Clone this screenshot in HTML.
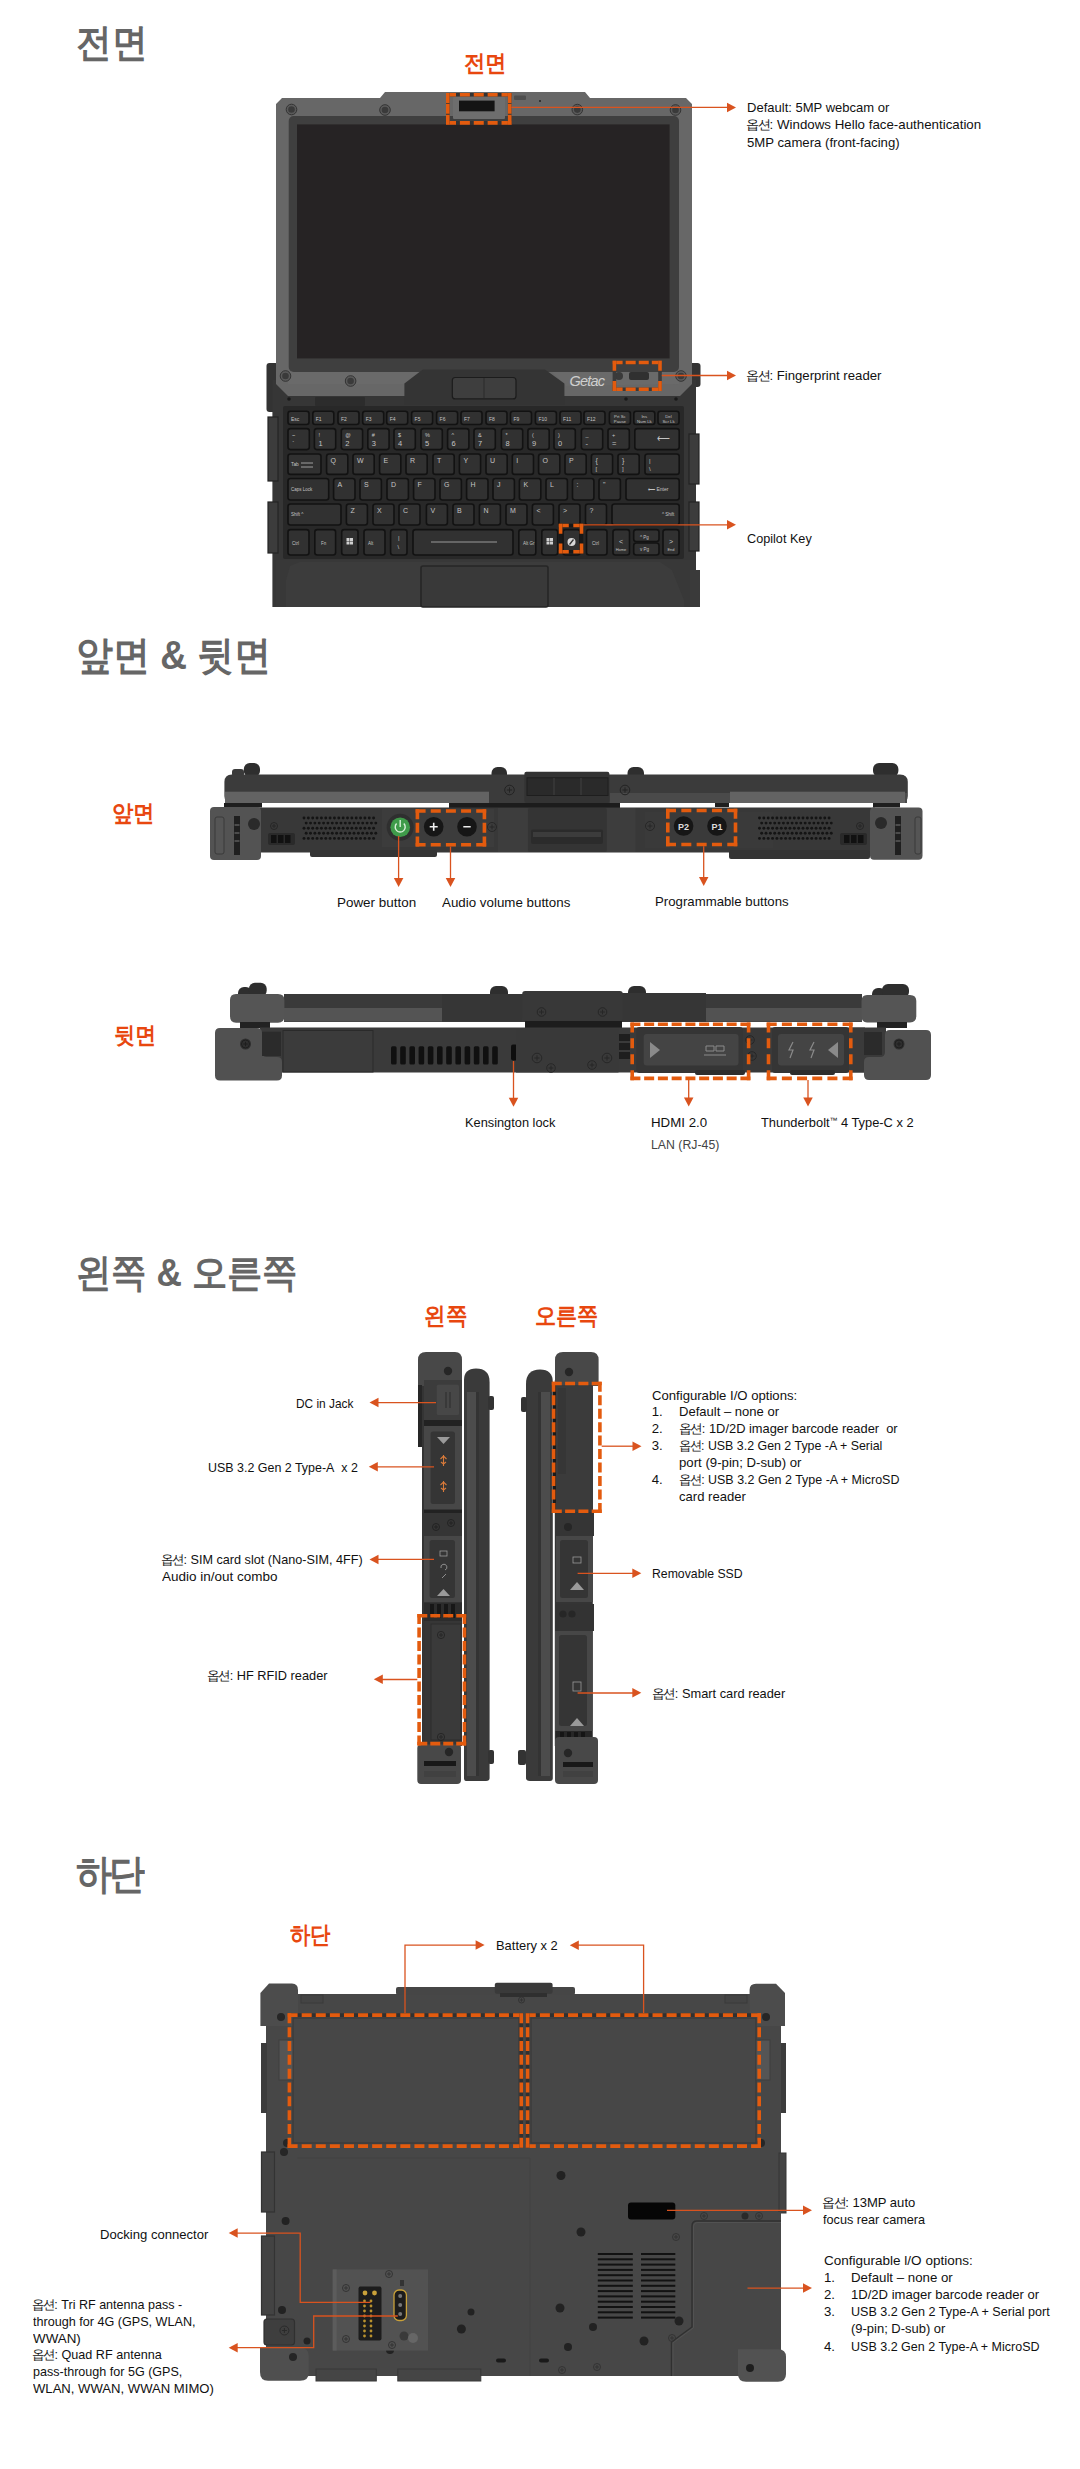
<!DOCTYPE html>
<html><head><meta charset="utf-8"><style>
html,body{margin:0;padding:0;background:#fff;}
body{width:1080px;height:2469px;position:relative;overflow:hidden;font-family:"Liberation Sans",sans-serif;}
.t{position:absolute;white-space:nowrap;line-height:17px;color:#111;transform-origin:0 0;}
.h{position:absolute;white-space:nowrap;line-height:1;font-weight:bold;transform-origin:0 0;}
.k{letter-spacing:-1.3px;}
svg{position:absolute;left:0;top:0;}
</style></head><body>
<svg width="1080" height="2469" viewBox="0 0 1080 2469">
<rect x="266.5" y="363" width="12" height="49" rx="3" fill="#333333" />
<rect x="689" y="363" width="11.5" height="24" rx="3" fill="#333333" />
<rect x="272.4" y="380" width="423.6" height="227" rx="0" fill="#363636" />
<rect x="685" y="570" width="15" height="37" rx="0" fill="#3a3a3a" />
<circle cx="289" cy="399" r="1.8" fill="#1a1a1a" />
<circle cx="325" cy="399" r="1.8" fill="#1a1a1a" />
<circle cx="676" cy="399" r="1.8" fill="#1a1a1a" />
<circle cx="626" cy="399" r="1.8" fill="#1a1a1a" />
<rect x="315" y="397" width="50" height="9" rx="1" fill="#2c2c2c" />
<rect x="268" y="417" width="10" height="64" rx="0" fill="#3c3c3c" stroke="#232323" stroke-width="1.2"/>
<rect x="268" y="502" width="10" height="51" rx="0" fill="#3c3c3c" stroke="#232323" stroke-width="1.2"/>
<rect x="689" y="434" width="10" height="50" rx="0" fill="#3c3c3c" stroke="#232323" stroke-width="1.2"/>
<rect x="689" y="502" width="10" height="49" rx="0" fill="#3c3c3c" stroke="#232323" stroke-width="1.2"/>
<rect x="283" y="406" width="401" height="153" rx="2" fill="#282828" />
<polygon points="276,560 690,560 690,607 276,607" fill="#383838" />
<polygon points="290,566 300,562 660,562 672,570 684,600 684,607 286,607 286,580" fill="#3c3c3c" />
<rect x="421" y="566" width="127" height="41" rx="2" fill="#393939" stroke="#262626" stroke-width="1.6"/>
<rect x="288" y="411.3" width="21" height="13.199999999999989" rx="2.5" fill="#313131" stroke="#121212" stroke-width="1.6"/>
<rect x="312.8" y="411.3" width="21.0" height="13.199999999999989" rx="2.5" fill="#313131" stroke="#121212" stroke-width="1.6"/>
<rect x="338" y="411.3" width="21" height="13.199999999999989" rx="2.5" fill="#313131" stroke="#121212" stroke-width="1.6"/>
<rect x="362.7" y="411.3" width="21.0" height="13.199999999999989" rx="2.5" fill="#313131" stroke="#121212" stroke-width="1.6"/>
<rect x="386.7" y="411.3" width="21.0" height="13.199999999999989" rx="2.5" fill="#313131" stroke="#121212" stroke-width="1.6"/>
<rect x="411.6" y="411.3" width="21.0" height="13.199999999999989" rx="2.5" fill="#313131" stroke="#121212" stroke-width="1.6"/>
<rect x="436.6" y="411.3" width="21.0" height="13.199999999999989" rx="2.5" fill="#313131" stroke="#121212" stroke-width="1.6"/>
<rect x="461" y="411.3" width="21" height="13.199999999999989" rx="2.5" fill="#313131" stroke="#121212" stroke-width="1.6"/>
<rect x="486" y="411.3" width="21" height="13.199999999999989" rx="2.5" fill="#313131" stroke="#121212" stroke-width="1.6"/>
<rect x="510.5" y="411.3" width="21.0" height="13.199999999999989" rx="2.5" fill="#313131" stroke="#121212" stroke-width="1.6"/>
<rect x="535.4" y="411.3" width="21.0" height="13.199999999999989" rx="2.5" fill="#313131" stroke="#121212" stroke-width="1.6"/>
<rect x="560" y="411.3" width="21" height="13.199999999999989" rx="2.5" fill="#313131" stroke="#121212" stroke-width="1.6"/>
<rect x="584" y="411.3" width="21" height="13.199999999999989" rx="2.5" fill="#313131" stroke="#121212" stroke-width="1.6"/>
<rect x="609.4" y="411.3" width="21.0" height="13.199999999999989" rx="2.5" fill="#313131" stroke="#121212" stroke-width="1.6"/>
<rect x="633.8" y="411.3" width="21.0" height="13.199999999999989" rx="2.5" fill="#313131" stroke="#121212" stroke-width="1.6"/>
<rect x="658" y="411.3" width="21" height="13.199999999999989" rx="2.5" fill="#313131" stroke="#121212" stroke-width="1.6"/>
<rect x="288" y="428.6" width="21.30000000000001" height="21.0" rx="2.5" fill="#313131" stroke="#121212" stroke-width="1.6"/>
<rect x="314.4" y="428.6" width="21.30000000000001" height="21.0" rx="2.5" fill="#313131" stroke="#121212" stroke-width="1.6"/>
<rect x="341.3" y="428.6" width="21.30000000000001" height="21.0" rx="2.5" fill="#313131" stroke="#121212" stroke-width="1.6"/>
<rect x="367.8" y="428.6" width="21.30000000000001" height="21.0" rx="2.5" fill="#313131" stroke="#121212" stroke-width="1.6"/>
<rect x="394" y="428.6" width="21.30000000000001" height="21.0" rx="2.5" fill="#313131" stroke="#121212" stroke-width="1.6"/>
<rect x="421" y="428.6" width="21.30000000000001" height="21.0" rx="2.5" fill="#313131" stroke="#121212" stroke-width="1.6"/>
<rect x="447.6" y="428.6" width="21.30000000000001" height="21.0" rx="2.5" fill="#313131" stroke="#121212" stroke-width="1.6"/>
<rect x="474" y="428.6" width="21.30000000000001" height="21.0" rx="2.5" fill="#313131" stroke="#121212" stroke-width="1.6"/>
<rect x="501.4" y="428.6" width="21.299999999999955" height="21.0" rx="2.5" fill="#313131" stroke="#121212" stroke-width="1.6"/>
<rect x="527.9" y="428.6" width="21.299999999999955" height="21.0" rx="2.5" fill="#313131" stroke="#121212" stroke-width="1.6"/>
<rect x="554" y="428.6" width="21.299999999999955" height="21.0" rx="2.5" fill="#313131" stroke="#121212" stroke-width="1.6"/>
<rect x="581.4" y="428.6" width="21.299999999999955" height="21.0" rx="2.5" fill="#313131" stroke="#121212" stroke-width="1.6"/>
<rect x="608" y="428.6" width="21.299999999999955" height="21.0" rx="2.5" fill="#313131" stroke="#121212" stroke-width="1.6"/>
<rect x="634.8" y="428.6" width="44.40000000000009" height="21.0" rx="2.5" fill="#313131" stroke="#121212" stroke-width="1.6"/>
<rect x="288" y="454" width="33" height="20.399999999999977" rx="2.5" fill="#313131" stroke="#121212" stroke-width="1.6"/>
<rect x="326.6" y="454" width="21.19999999999999" height="20.399999999999977" rx="2.5" fill="#313131" stroke="#121212" stroke-width="1.6"/>
<rect x="353" y="454" width="21.19999999999999" height="20.399999999999977" rx="2.5" fill="#313131" stroke="#121212" stroke-width="1.6"/>
<rect x="379.6" y="454" width="21.19999999999999" height="20.399999999999977" rx="2.5" fill="#313131" stroke="#121212" stroke-width="1.6"/>
<rect x="406" y="454" width="21.19999999999999" height="20.399999999999977" rx="2.5" fill="#313131" stroke="#121212" stroke-width="1.6"/>
<rect x="433" y="454" width="21.19999999999999" height="20.399999999999977" rx="2.5" fill="#313131" stroke="#121212" stroke-width="1.6"/>
<rect x="459.4" y="454" width="21.19999999999999" height="20.399999999999977" rx="2.5" fill="#313131" stroke="#121212" stroke-width="1.6"/>
<rect x="486" y="454" width="21.19999999999999" height="20.399999999999977" rx="2.5" fill="#313131" stroke="#121212" stroke-width="1.6"/>
<rect x="512.3" y="454" width="21.200000000000045" height="20.399999999999977" rx="2.5" fill="#313131" stroke="#121212" stroke-width="1.6"/>
<rect x="538.6" y="454" width="21.200000000000045" height="20.399999999999977" rx="2.5" fill="#313131" stroke="#121212" stroke-width="1.6"/>
<rect x="565" y="454" width="21.200000000000045" height="20.399999999999977" rx="2.5" fill="#313131" stroke="#121212" stroke-width="1.6"/>
<rect x="591.4" y="454" width="21.200000000000045" height="20.399999999999977" rx="2.5" fill="#313131" stroke="#121212" stroke-width="1.6"/>
<rect x="618" y="454" width="21.200000000000045" height="20.399999999999977" rx="2.5" fill="#313131" stroke="#121212" stroke-width="1.6"/>
<rect x="645" y="454" width="34.200000000000045" height="20.399999999999977" rx="2.5" fill="#313131" stroke="#121212" stroke-width="1.6"/>
<rect x="288" y="478.5" width="40.69999999999999" height="21.5" rx="2.5" fill="#313131" stroke="#121212" stroke-width="1.6"/>
<rect x="333.6" y="478.5" width="21.399999999999977" height="21.5" rx="2.5" fill="#313131" stroke="#121212" stroke-width="1.6"/>
<rect x="360" y="478.5" width="21.399999999999977" height="21.5" rx="2.5" fill="#313131" stroke="#121212" stroke-width="1.6"/>
<rect x="387" y="478.5" width="21.399999999999977" height="21.5" rx="2.5" fill="#313131" stroke="#121212" stroke-width="1.6"/>
<rect x="413.6" y="478.5" width="21.399999999999977" height="21.5" rx="2.5" fill="#313131" stroke="#121212" stroke-width="1.6"/>
<rect x="440" y="478.5" width="21.399999999999977" height="21.5" rx="2.5" fill="#313131" stroke="#121212" stroke-width="1.6"/>
<rect x="466.6" y="478.5" width="21.399999999999977" height="21.5" rx="2.5" fill="#313131" stroke="#121212" stroke-width="1.6"/>
<rect x="493" y="478.5" width="21.399999999999977" height="21.5" rx="2.5" fill="#313131" stroke="#121212" stroke-width="1.6"/>
<rect x="519.4" y="478.5" width="21.399999999999977" height="21.5" rx="2.5" fill="#313131" stroke="#121212" stroke-width="1.6"/>
<rect x="546" y="478.5" width="21.399999999999977" height="21.5" rx="2.5" fill="#313131" stroke="#121212" stroke-width="1.6"/>
<rect x="572.5" y="478.5" width="21.399999999999977" height="21.5" rx="2.5" fill="#313131" stroke="#121212" stroke-width="1.6"/>
<rect x="599" y="478.5" width="21.399999999999977" height="21.5" rx="2.5" fill="#313131" stroke="#121212" stroke-width="1.6"/>
<rect x="626" y="478.5" width="53.200000000000045" height="21.5" rx="2.5" fill="#313131" stroke="#121212" stroke-width="1.6"/>
<rect x="288" y="504" width="53" height="21" rx="2.5" fill="#313131" stroke="#121212" stroke-width="1.6"/>
<rect x="346.4" y="504" width="21.0" height="21" rx="2.5" fill="#313131" stroke="#121212" stroke-width="1.6"/>
<rect x="373" y="504" width="21" height="21" rx="2.5" fill="#313131" stroke="#121212" stroke-width="1.6"/>
<rect x="399" y="504" width="21" height="21" rx="2.5" fill="#313131" stroke="#121212" stroke-width="1.6"/>
<rect x="426.4" y="504" width="21.0" height="21" rx="2.5" fill="#313131" stroke="#121212" stroke-width="1.6"/>
<rect x="453" y="504" width="21" height="21" rx="2.5" fill="#313131" stroke="#121212" stroke-width="1.6"/>
<rect x="479.4" y="504" width="21.0" height="21" rx="2.5" fill="#313131" stroke="#121212" stroke-width="1.6"/>
<rect x="506" y="504" width="21" height="21" rx="2.5" fill="#313131" stroke="#121212" stroke-width="1.6"/>
<rect x="532.4" y="504" width="21.0" height="21" rx="2.5" fill="#313131" stroke="#121212" stroke-width="1.6"/>
<rect x="559" y="504" width="21" height="21" rx="2.5" fill="#313131" stroke="#121212" stroke-width="1.6"/>
<rect x="585.5" y="504" width="21.0" height="21" rx="2.5" fill="#313131" stroke="#121212" stroke-width="1.6"/>
<rect x="612" y="504" width="67.20000000000005" height="21" rx="2.5" fill="#313131" stroke="#121212" stroke-width="1.6"/>
<rect x="288" y="529.6" width="21" height="25.399999999999977" rx="2.5" fill="#313131" stroke="#121212" stroke-width="1.6"/>
<rect x="314.8" y="529.6" width="20.80000000000001" height="25.399999999999977" rx="2.5" fill="#313131" stroke="#121212" stroke-width="1.6"/>
<rect x="341.7" y="529.6" width="16.30000000000001" height="25.399999999999977" rx="2.5" fill="#313131" stroke="#121212" stroke-width="1.6"/>
<rect x="364" y="529.6" width="21" height="25.399999999999977" rx="2.5" fill="#313131" stroke="#121212" stroke-width="1.6"/>
<rect x="390.6" y="529.6" width="16.399999999999977" height="25.399999999999977" rx="2.5" fill="#313131" stroke="#121212" stroke-width="1.6"/>
<rect x="413" y="529.6" width="100" height="25.399999999999977" rx="2.5" fill="#313131" stroke="#121212" stroke-width="1.6"/>
<rect x="518.8" y="529.6" width="17.0" height="25.399999999999977" rx="2.5" fill="#313131" stroke="#121212" stroke-width="1.6"/>
<rect x="541.8" y="529.6" width="15.900000000000091" height="25.399999999999977" rx="2.5" fill="#313131" stroke="#121212" stroke-width="1.6"/>
<rect x="563" y="529.6" width="17" height="25.399999999999977" rx="2.5" fill="#313131" stroke="#121212" stroke-width="1.6"/>
<rect x="586.5" y="529.6" width="20.5" height="25.399999999999977" rx="2.5" fill="#313131" stroke="#121212" stroke-width="1.6"/>
<rect x="613" y="529.6" width="16.5" height="25.399999999999977" rx="2.5" fill="#313131" stroke="#121212" stroke-width="1.6"/>
<rect x="663" y="529.6" width="16" height="25.399999999999977" rx="2.5" fill="#313131" stroke="#121212" stroke-width="1.6"/>
<rect x="633.7" y="529.6" width="25.299999999999955" height="11.899999999999977" rx="2.5" fill="#313131" stroke="#121212" stroke-width="1.6"/>
<rect x="633.7" y="543" width="25.299999999999955" height="12" rx="2.5" fill="#313131" stroke="#121212" stroke-width="1.6"/>
<line x1="431" y1="542" x2="497" y2="542" stroke="#9a9a9a" stroke-width="1"/>
<text x="291" y="420.5" font-family="Liberation Sans" font-size="5" fill="#c4c4c4" text-anchor="start" font-weight="normal">Esc</text>
<text x="315.8" y="420.5" font-family="Liberation Sans" font-size="5" fill="#c4c4c4" text-anchor="start" font-weight="normal">F1</text>
<text x="341" y="420.5" font-family="Liberation Sans" font-size="5" fill="#c4c4c4" text-anchor="start" font-weight="normal">F2</text>
<text x="365.7" y="420.5" font-family="Liberation Sans" font-size="5" fill="#c4c4c4" text-anchor="start" font-weight="normal">F3</text>
<text x="389.7" y="420.5" font-family="Liberation Sans" font-size="5" fill="#c4c4c4" text-anchor="start" font-weight="normal">F4</text>
<text x="414.6" y="420.5" font-family="Liberation Sans" font-size="5" fill="#c4c4c4" text-anchor="start" font-weight="normal">F5</text>
<text x="439.6" y="420.5" font-family="Liberation Sans" font-size="5" fill="#c4c4c4" text-anchor="start" font-weight="normal">F6</text>
<text x="464" y="420.5" font-family="Liberation Sans" font-size="5" fill="#c4c4c4" text-anchor="start" font-weight="normal">F7</text>
<text x="489" y="420.5" font-family="Liberation Sans" font-size="5" fill="#c4c4c4" text-anchor="start" font-weight="normal">F8</text>
<text x="513.5" y="420.5" font-family="Liberation Sans" font-size="5" fill="#c4c4c4" text-anchor="start" font-weight="normal">F9</text>
<text x="538.4" y="420.5" font-family="Liberation Sans" font-size="5" fill="#c4c4c4" text-anchor="start" font-weight="normal">F10</text>
<text x="563" y="420.5" font-family="Liberation Sans" font-size="5" fill="#c4c4c4" text-anchor="start" font-weight="normal">F11</text>
<text x="587" y="420.5" font-family="Liberation Sans" font-size="5" fill="#c4c4c4" text-anchor="start" font-weight="normal">F12</text>
<text x="619.9" y="417.5" font-family="Liberation Sans" font-size="4.3" fill="#c4c4c4" text-anchor="middle" font-weight="normal">Prt Sc</text>
<text x="619.9" y="422.5" font-family="Liberation Sans" font-size="4.3" fill="#c4c4c4" text-anchor="middle" font-weight="normal">Pause</text>
<text x="644.3" y="417.5" font-family="Liberation Sans" font-size="4.3" fill="#c4c4c4" text-anchor="middle" font-weight="normal">Ins</text>
<text x="644.3" y="422.5" font-family="Liberation Sans" font-size="4.3" fill="#c4c4c4" text-anchor="middle" font-weight="normal">Num Lk</text>
<text x="668.5" y="417.5" font-family="Liberation Sans" font-size="4.3" fill="#c4c4c4" text-anchor="middle" font-weight="normal">Del</text>
<text x="668.5" y="422.5" font-family="Liberation Sans" font-size="4.3" fill="#c4c4c4" text-anchor="middle" font-weight="normal">Scr Lk</text>
<text x="292" y="436.5" font-family="Liberation Sans" font-size="5.5" fill="#c4c4c4" text-anchor="start" font-weight="normal">~</text>
<text x="292" y="446" font-family="Liberation Sans" font-size="7.5" fill="#c4c4c4" text-anchor="start" font-weight="normal">`</text>
<text x="318.4" y="436.5" font-family="Liberation Sans" font-size="5.5" fill="#c4c4c4" text-anchor="start" font-weight="normal">!</text>
<text x="318.4" y="446" font-family="Liberation Sans" font-size="7.5" fill="#c4c4c4" text-anchor="start" font-weight="normal">1</text>
<text x="345.3" y="436.5" font-family="Liberation Sans" font-size="5.5" fill="#c4c4c4" text-anchor="start" font-weight="normal">@</text>
<text x="345.3" y="446" font-family="Liberation Sans" font-size="7.5" fill="#c4c4c4" text-anchor="start" font-weight="normal">2</text>
<text x="371.8" y="436.5" font-family="Liberation Sans" font-size="5.5" fill="#c4c4c4" text-anchor="start" font-weight="normal">#</text>
<text x="371.8" y="446" font-family="Liberation Sans" font-size="7.5" fill="#c4c4c4" text-anchor="start" font-weight="normal">3</text>
<text x="398" y="436.5" font-family="Liberation Sans" font-size="5.5" fill="#c4c4c4" text-anchor="start" font-weight="normal">$</text>
<text x="398" y="446" font-family="Liberation Sans" font-size="7.5" fill="#c4c4c4" text-anchor="start" font-weight="normal">4</text>
<text x="425" y="436.5" font-family="Liberation Sans" font-size="5.5" fill="#c4c4c4" text-anchor="start" font-weight="normal">%</text>
<text x="425" y="446" font-family="Liberation Sans" font-size="7.5" fill="#c4c4c4" text-anchor="start" font-weight="normal">5</text>
<text x="451.6" y="436.5" font-family="Liberation Sans" font-size="5.5" fill="#c4c4c4" text-anchor="start" font-weight="normal">^</text>
<text x="451.6" y="446" font-family="Liberation Sans" font-size="7.5" fill="#c4c4c4" text-anchor="start" font-weight="normal">6</text>
<text x="478" y="436.5" font-family="Liberation Sans" font-size="5.5" fill="#c4c4c4" text-anchor="start" font-weight="normal">&amp;</text>
<text x="478" y="446" font-family="Liberation Sans" font-size="7.5" fill="#c4c4c4" text-anchor="start" font-weight="normal">7</text>
<text x="505.4" y="436.5" font-family="Liberation Sans" font-size="5.5" fill="#c4c4c4" text-anchor="start" font-weight="normal">*</text>
<text x="505.4" y="446" font-family="Liberation Sans" font-size="7.5" fill="#c4c4c4" text-anchor="start" font-weight="normal">8</text>
<text x="531.9" y="436.5" font-family="Liberation Sans" font-size="5.5" fill="#c4c4c4" text-anchor="start" font-weight="normal">(</text>
<text x="531.9" y="446" font-family="Liberation Sans" font-size="7.5" fill="#c4c4c4" text-anchor="start" font-weight="normal">9</text>
<text x="558" y="436.5" font-family="Liberation Sans" font-size="5.5" fill="#c4c4c4" text-anchor="start" font-weight="normal">)</text>
<text x="558" y="446" font-family="Liberation Sans" font-size="7.5" fill="#c4c4c4" text-anchor="start" font-weight="normal">0</text>
<text x="585.4" y="436.5" font-family="Liberation Sans" font-size="5.5" fill="#c4c4c4" text-anchor="start" font-weight="normal">_</text>
<text x="585.4" y="446" font-family="Liberation Sans" font-size="7.5" fill="#c4c4c4" text-anchor="start" font-weight="normal">-</text>
<text x="612" y="436.5" font-family="Liberation Sans" font-size="5.5" fill="#c4c4c4" text-anchor="start" font-weight="normal">+</text>
<text x="612" y="446" font-family="Liberation Sans" font-size="7.5" fill="#c4c4c4" text-anchor="start" font-weight="normal">=</text>
<text x="657" y="441" font-family="Liberation Sans" font-size="9" fill="#c4c4c4" text-anchor="start" font-weight="normal">⟵</text>
<text x="291" y="466" font-family="Liberation Sans" font-size="4.8" fill="#c4c4c4" text-anchor="start" font-weight="normal">Tab</text>
<path d="M301,463h12M301,467h12" stroke="#bbb" stroke-width="0.8"/>
<text x="330.6" y="462.5" font-family="Liberation Sans" font-size="7" fill="#c4c4c4" text-anchor="start" font-weight="normal">Q</text>
<text x="357" y="462.5" font-family="Liberation Sans" font-size="7" fill="#c4c4c4" text-anchor="start" font-weight="normal">W</text>
<text x="383.6" y="462.5" font-family="Liberation Sans" font-size="7" fill="#c4c4c4" text-anchor="start" font-weight="normal">E</text>
<text x="410" y="462.5" font-family="Liberation Sans" font-size="7" fill="#c4c4c4" text-anchor="start" font-weight="normal">R</text>
<text x="437" y="462.5" font-family="Liberation Sans" font-size="7" fill="#c4c4c4" text-anchor="start" font-weight="normal">T</text>
<text x="463.4" y="462.5" font-family="Liberation Sans" font-size="7" fill="#c4c4c4" text-anchor="start" font-weight="normal">Y</text>
<text x="490" y="462.5" font-family="Liberation Sans" font-size="7" fill="#c4c4c4" text-anchor="start" font-weight="normal">U</text>
<text x="516.3" y="462.5" font-family="Liberation Sans" font-size="7" fill="#c4c4c4" text-anchor="start" font-weight="normal">I</text>
<text x="542.6" y="462.5" font-family="Liberation Sans" font-size="7" fill="#c4c4c4" text-anchor="start" font-weight="normal">O</text>
<text x="569" y="462.5" font-family="Liberation Sans" font-size="7" fill="#c4c4c4" text-anchor="start" font-weight="normal">P</text>
<text x="595.4" y="462.5" font-family="Liberation Sans" font-size="7" fill="#c4c4c4" text-anchor="start" font-weight="normal">{</text>
<text x="622" y="462.5" font-family="Liberation Sans" font-size="7" fill="#c4c4c4" text-anchor="start" font-weight="normal">}</text>
<text x="595.4" y="471" font-family="Liberation Sans" font-size="6" fill="#c4c4c4" text-anchor="start" font-weight="normal">[</text>
<text x="622" y="471" font-family="Liberation Sans" font-size="6" fill="#c4c4c4" text-anchor="start" font-weight="normal">]</text>
<text x="649" y="462.5" font-family="Liberation Sans" font-size="6" fill="#c4c4c4" text-anchor="start" font-weight="normal">|</text>
<text x="649" y="471" font-family="Liberation Sans" font-size="6" fill="#c4c4c4" text-anchor="start" font-weight="normal">\</text>
<text x="291" y="490.5" font-family="Liberation Sans" font-size="4.5" fill="#c4c4c4" text-anchor="start" font-weight="normal">Caps Lock</text>
<text x="337.6" y="487" font-family="Liberation Sans" font-size="7" fill="#c4c4c4" text-anchor="start" font-weight="normal">A</text>
<text x="364" y="487" font-family="Liberation Sans" font-size="7" fill="#c4c4c4" text-anchor="start" font-weight="normal">S</text>
<text x="391" y="487" font-family="Liberation Sans" font-size="7" fill="#c4c4c4" text-anchor="start" font-weight="normal">D</text>
<text x="417.6" y="487" font-family="Liberation Sans" font-size="7" fill="#c4c4c4" text-anchor="start" font-weight="normal">F</text>
<text x="444" y="487" font-family="Liberation Sans" font-size="7" fill="#c4c4c4" text-anchor="start" font-weight="normal">G</text>
<text x="470.6" y="487" font-family="Liberation Sans" font-size="7" fill="#c4c4c4" text-anchor="start" font-weight="normal">H</text>
<text x="497" y="487" font-family="Liberation Sans" font-size="7" fill="#c4c4c4" text-anchor="start" font-weight="normal">J</text>
<text x="523.4" y="487" font-family="Liberation Sans" font-size="7" fill="#c4c4c4" text-anchor="start" font-weight="normal">K</text>
<text x="550" y="487" font-family="Liberation Sans" font-size="7" fill="#c4c4c4" text-anchor="start" font-weight="normal">L</text>
<text x="576.5" y="487" font-family="Liberation Sans" font-size="7" fill="#c4c4c4" text-anchor="start" font-weight="normal">:</text>
<text x="603" y="487" font-family="Liberation Sans" font-size="7" fill="#c4c4c4" text-anchor="start" font-weight="normal">"</text>
<text x="648" y="490.5" font-family="Liberation Sans" font-size="5" fill="#c4c4c4" text-anchor="start" font-weight="normal">⟵ Enter</text>
<text x="291" y="516" font-family="Liberation Sans" font-size="4.5" fill="#c4c4c4" text-anchor="start" font-weight="normal">Shift ^</text>
<text x="350.4" y="512.5" font-family="Liberation Sans" font-size="7" fill="#c4c4c4" text-anchor="start" font-weight="normal">Z</text>
<text x="377" y="512.5" font-family="Liberation Sans" font-size="7" fill="#c4c4c4" text-anchor="start" font-weight="normal">X</text>
<text x="403" y="512.5" font-family="Liberation Sans" font-size="7" fill="#c4c4c4" text-anchor="start" font-weight="normal">C</text>
<text x="430.4" y="512.5" font-family="Liberation Sans" font-size="7" fill="#c4c4c4" text-anchor="start" font-weight="normal">V</text>
<text x="457" y="512.5" font-family="Liberation Sans" font-size="7" fill="#c4c4c4" text-anchor="start" font-weight="normal">B</text>
<text x="483.4" y="512.5" font-family="Liberation Sans" font-size="7" fill="#c4c4c4" text-anchor="start" font-weight="normal">N</text>
<text x="510" y="512.5" font-family="Liberation Sans" font-size="7" fill="#c4c4c4" text-anchor="start" font-weight="normal">M</text>
<text x="536.4" y="512.5" font-family="Liberation Sans" font-size="7" fill="#c4c4c4" text-anchor="start" font-weight="normal">&lt;</text>
<text x="563" y="512.5" font-family="Liberation Sans" font-size="7" fill="#c4c4c4" text-anchor="start" font-weight="normal">&gt;</text>
<text x="589.5" y="512.5" font-family="Liberation Sans" font-size="7" fill="#c4c4c4" text-anchor="start" font-weight="normal">?</text>
<text x="662" y="516" font-family="Liberation Sans" font-size="4.5" fill="#c4c4c4" text-anchor="start" font-weight="normal">^ Shift</text>
<text x="292" y="544.5" font-family="Liberation Sans" font-size="4.5" fill="#c4c4c4" text-anchor="start" font-weight="normal">Ctrl</text>
<text x="321" y="544.5" font-family="Liberation Sans" font-size="4.5" fill="#c4c4c4" text-anchor="start" font-weight="normal">Fn</text>
<text x="368" y="544.5" font-family="Liberation Sans" font-size="4.5" fill="#c4c4c4" text-anchor="start" font-weight="normal">Alt</text>
<text x="523" y="544.5" font-family="Liberation Sans" font-size="4.5" fill="#c4c4c4" text-anchor="start" font-weight="normal">Alt Gr</text>
<text x="592" y="544.5" font-family="Liberation Sans" font-size="4.5" fill="#c4c4c4" text-anchor="start" font-weight="normal">Ctrl</text>
<rect x="346.5" y="538" width="3" height="3" rx="0" fill="#d0d0d0" />
<rect x="346.5" y="541.5" width="3" height="3" rx="0" fill="#d0d0d0" />
<rect x="350.0" y="538" width="3" height="3" rx="0" fill="#d0d0d0" />
<rect x="350.0" y="541.5" width="3" height="3" rx="0" fill="#d0d0d0" />
<rect x="546.5" y="538" width="3" height="3" rx="0" fill="#d0d0d0" />
<rect x="546.5" y="541.5" width="3" height="3" rx="0" fill="#d0d0d0" />
<rect x="550.0" y="538" width="3" height="3" rx="0" fill="#d0d0d0" />
<rect x="550.0" y="541.5" width="3" height="3" rx="0" fill="#d0d0d0" />
<text x="398" y="540" font-family="Liberation Sans" font-size="6" fill="#c4c4c4" text-anchor="start" font-weight="normal">|</text>
<text x="397.5" y="549" font-family="Liberation Sans" font-size="6" fill="#c4c4c4" text-anchor="start" font-weight="normal">\</text>
<circle cx="571.5" cy="542" r="4" fill="#d8d8d8"/><path d="M569.5,544.5 l4,-5" stroke="#333" stroke-width="1.3"/>
<text x="621" y="544" font-family="Liberation Sans" font-size="7" fill="#c4c4c4" text-anchor="middle" font-weight="normal">&lt;</text>
<text x="621" y="551" font-family="Liberation Sans" font-size="4" fill="#c4c4c4" text-anchor="middle" font-weight="normal">Home</text>
<text x="671" y="544" font-family="Liberation Sans" font-size="7" fill="#c4c4c4" text-anchor="middle" font-weight="normal">&gt;</text>
<text x="671" y="551" font-family="Liberation Sans" font-size="4" fill="#c4c4c4" text-anchor="middle" font-weight="normal">End</text>
<text x="640" y="538.5" font-family="Liberation Sans" font-size="4.5" fill="#c4c4c4" text-anchor="start" font-weight="normal">^ Pg</text>
<text x="640" y="551" font-family="Liberation Sans" font-size="4.5" fill="#c4c4c4" text-anchor="start" font-weight="normal">v Pg</text>
<polygon points="276,104 282,98 380,98 385,92 585,92 590,98 686,98 692,104 692,384 680,396 288,396 276,384" fill="#676767" />
<rect x="288.7" y="116" width="390.3" height="256" rx="5" fill="#3f3f3f" />
<rect x="297" y="124.4" width="372.6" height="234" rx="0" fill="#262324" />
<polygon points="288,372 436,372 423,384 288,384" fill="#6a6a6a" />

<polygon points="552,372 679,372 679,384 566,386" fill="#6a6a6a" />
<polygon points="422.8,369.4 545,369.4 564.4,383.6 564.4,405 404.4,405 404.4,383.6" fill="#343434" />
<rect x="452.3" y="377.5" width="63.7" height="21.4" rx="3" fill="#3e3e3e" stroke="#1c1c1c" stroke-width="1.2"/>
<line x1="484" y1="378" x2="484" y2="398" stroke="#2a2a2a" stroke-width="1"/>
<circle cx="291.5" cy="109.5" r="5.3" fill="#5a5a5a" stroke="#333" stroke-width="1"/>
<circle cx="291.5" cy="109.5" r="3.3" fill="#3a3a3a" />
<circle cx="385" cy="110" r="5.3" fill="#5a5a5a" stroke="#333" stroke-width="1"/>
<circle cx="385" cy="110" r="3.3" fill="#3a3a3a" />
<circle cx="577.3" cy="109.6" r="5.3" fill="#5a5a5a" stroke="#333" stroke-width="1"/>
<circle cx="577.3" cy="109.6" r="3.3" fill="#3a3a3a" />
<circle cx="675.5" cy="110" r="5.3" fill="#5a5a5a" stroke="#333" stroke-width="1"/>
<circle cx="675.5" cy="110" r="3.3" fill="#3a3a3a" />
<circle cx="285.5" cy="376" r="5.3" fill="#5a5a5a" stroke="#333" stroke-width="1"/>
<circle cx="285.5" cy="376" r="3.3" fill="#3a3a3a" />
<circle cx="350.6" cy="381" r="5.3" fill="#5a5a5a" stroke="#333" stroke-width="1"/>
<circle cx="350.6" cy="381" r="3.3" fill="#3a3a3a" />
<circle cx="681" cy="376" r="5.3" fill="#5a5a5a" stroke="#333" stroke-width="1"/>
<circle cx="681" cy="376" r="3.3" fill="#3a3a3a" />
<rect x="453" y="97" width="52" height="22" rx="1" fill="#6e6e6e" />
<rect x="459" y="100.6" width="35.6" height="10.7" rx="0" fill="#141414" />
<rect x="514" y="95.5" width="12" height="4.5" rx="1" fill="#4e4e4e" />
<circle cx="540" cy="101" r="1" fill="#222" />
<rect x="629" y="372" width="20" height="8" rx="2" fill="#303030" />
<circle cx="619" cy="376" r="4" fill="#3a3a3a" />
<text x="569.6" y="386" font-family="Liberation Sans" font-style="italic" font-size="14.5" fill="#cfcfcf" textLength="35.5">Getac</text>
<line x1="446" y1="94.8" x2="511.5" y2="94.8" stroke="#333" stroke-width="3.6"/>
<line x1="446" y1="94.8" x2="511.5" y2="94.8" stroke="#e35b0e" stroke-width="3.6" stroke-dasharray="10.00 3.88"/>
<line x1="446" y1="122.9" x2="511.5" y2="122.9" stroke="#333" stroke-width="3.6"/>
<line x1="446" y1="122.9" x2="511.5" y2="122.9" stroke="#e35b0e" stroke-width="3.6" stroke-dasharray="10.00 3.88"/>
<line x1="447.8" y1="93" x2="447.8" y2="124.7" stroke="#333" stroke-width="3.6"/>
<line x1="447.8" y1="93" x2="447.8" y2="124.7" stroke="#e35b0e" stroke-width="3.6" stroke-dasharray="10.00 0.85"/>
<line x1="509.7" y1="93" x2="509.7" y2="124.7" stroke="#333" stroke-width="3.6"/>
<line x1="509.7" y1="93" x2="509.7" y2="124.7" stroke="#e35b0e" stroke-width="3.6" stroke-dasharray="10.00 0.85"/>
<line x1="612.6" y1="362.5" x2="661.8" y2="362.5" stroke="#3a3a3a" stroke-width="3.6"/>
<line x1="612.6" y1="362.5" x2="661.8" y2="362.5" stroke="#e35b0e" stroke-width="3.6" stroke-dasharray="10.00 3.07"/>
<line x1="612.6" y1="389.2" x2="661.8" y2="389.2" stroke="#3a3a3a" stroke-width="3.6"/>
<line x1="612.6" y1="389.2" x2="661.8" y2="389.2" stroke="#e35b0e" stroke-width="3.6" stroke-dasharray="10.00 3.07"/>
<line x1="614.4" y1="360.7" x2="614.4" y2="391" stroke="#3a3a3a" stroke-width="3.6"/>
<line x1="614.4" y1="360.7" x2="614.4" y2="391" stroke="#e35b0e" stroke-width="3.6" stroke-dasharray="10.00 10.30"/>
<line x1="660.0" y1="360.7" x2="660.0" y2="391" stroke="#3a3a3a" stroke-width="3.6"/>
<line x1="660.0" y1="360.7" x2="660.0" y2="391" stroke="#e35b0e" stroke-width="3.6" stroke-dasharray="10.00 10.30"/>
<line x1="558.8" y1="525.5" x2="583.3" y2="525.5" stroke="#181818" stroke-width="3.6"/>
<line x1="558.8" y1="525.5" x2="583.3" y2="525.5" stroke="#e35b0e" stroke-width="3.6" stroke-dasharray="10.00 4.50"/>
<line x1="558.8" y1="551.8000000000001" x2="583.3" y2="551.8000000000001" stroke="#181818" stroke-width="3.6"/>
<line x1="558.8" y1="551.8000000000001" x2="583.3" y2="551.8000000000001" stroke="#e35b0e" stroke-width="3.6" stroke-dasharray="10.00 4.50"/>
<line x1="560.5999999999999" y1="523.7" x2="560.5999999999999" y2="553.6" stroke="#181818" stroke-width="3.6"/>
<line x1="560.5999999999999" y1="523.7" x2="560.5999999999999" y2="553.6" stroke="#e35b0e" stroke-width="3.6" stroke-dasharray="10.00 9.90"/>
<line x1="581.5" y1="523.7" x2="581.5" y2="553.6" stroke="#181818" stroke-width="3.6"/>
<line x1="581.5" y1="523.7" x2="581.5" y2="553.6" stroke="#e35b0e" stroke-width="3.6" stroke-dasharray="10.00 9.90"/>
<line x1="511.5" y1="107.4" x2="728" y2="107.4" stroke="#d9531f" stroke-width="1.3"/>
<polygon points="736,107.4 727,102.65 727,112.15" fill="#d9531f" />
<line x1="661.8" y1="375.5" x2="728" y2="375.5" stroke="#d9531f" stroke-width="1.3"/>
<polygon points="736,375.5 727,370.75 727,380.25" fill="#d9531f" />
<line x1="583.3" y1="524.8" x2="728" y2="524.8" stroke="#d9531f" stroke-width="1.3"/>
<polygon points="736,524.8 727,520.05 727,529.55" fill="#d9531f" />
<rect x="243.8" y="763" width="16.19999999999999" height="14" rx="6" fill="#2e2e2e" />
<rect x="491.5" y="767" width="15.5" height="14" rx="6" fill="#2e2e2e" />
<rect x="627.5" y="767" width="16.5" height="14" rx="6" fill="#2e2e2e" />
<rect x="873" y="763" width="25.399999999999977" height="14" rx="6" fill="#2e2e2e" />
<rect x="232" y="769" width="12" height="8" rx="3" fill="#3a3a3a" />
<path d="M224.4,782 Q224.4,774.4 232,774.4 L900,774.4 Q907.8,774.4 907.8,782 L907.8,796 Q907.8,803 900,803 L232,803 Q224.4,803 224.4,796Z" fill="#3b3b3b"/>
<rect x="225" y="791.7" width="264" height="11.3" rx="0" fill="#636363" />
<rect x="610" y="793" width="297" height="10" rx="0" fill="#4a4a4a" />
<rect x="730" y="791.7" width="175" height="11.3" rx="0" fill="#636363" />
<rect x="224" y="803" width="38" height="4.5" rx="0" fill="#1e1e1e" />
<rect x="598" y="803" width="16" height="4" rx="0" fill="#1e1e1e" />
<rect x="715" y="803" width="14" height="4" rx="0" fill="#1e1e1e" />
<rect x="873" y="803" width="27" height="4.5" rx="0" fill="#1e1e1e" />
<rect x="524.4" y="771.8" width="85" height="31.2" rx="2" fill="#333333" />
<rect x="527" y="777.8" width="81" height="17.7" rx="0" fill="#2a2a2a" stroke="#1e1e1e" stroke-width="1"/>
<line x1="554" y1="778" x2="554" y2="795" stroke="#3a3a3a" stroke-width="1.5"/>
<line x1="581" y1="778" x2="581" y2="795" stroke="#3a3a3a" stroke-width="1.5"/>
<circle cx="509.5" cy="790" r="4.8" fill="none" stroke="#232323" stroke-width="1"/>
<path d="M506.86,790H512.14M509.5,787.36V792.64" stroke="#232323" stroke-width="1"/>
<circle cx="625" cy="790" r="4.8" fill="none" stroke="#232323" stroke-width="1"/>
<path d="M622.36,790H627.64M625,787.36V792.64" stroke="#232323" stroke-width="1"/>
<rect x="449" y="803" width="171" height="5" rx="0" fill="#1c1c1c" />
<rect x="255" y="807.5" width="620" height="45" rx="0" fill="#383838" />
<rect x="310" y="850" width="127" height="7" rx="2" fill="#343434" />
<rect x="729" y="850" width="141" height="9" rx="2" fill="#343434" />
<rect x="382" y="809" width="112" height="38" rx="0" fill="#3c3c3c" />
<rect x="497.8" y="808" width="30" height="44" rx="0" fill="#3d3d3d" />
<rect x="606.7" y="808" width="29" height="44" rx="0" fill="#3d3d3d" />
<rect x="528" y="808" width="78.7" height="44" rx="3" fill="#343434" />
<rect x="531" y="829.6" width="72" height="14.4" rx="2" fill="#2b2b2b" />
<rect x="533" y="832" width="68" height="5" rx="0" fill="#3c3c3c" />
<rect x="645" y="812" width="128" height="36" rx="0" fill="#3a3a3a" />
<rect x="210" y="807" width="51" height="53" rx="4" fill="#535353" />
<rect x="215" y="817" width="9" height="37" rx="2" fill="#555555" stroke="#3a3a3a" stroke-width="1"/>
<rect x="234" y="816" width="6" height="39" rx="0" fill="#1f1f1f" />
<rect x="234.5" y="824" width="5" height="2" rx="0" fill="#4b4b4b" />
<rect x="234.5" y="832" width="5" height="2" rx="0" fill="#4b4b4b" />
<rect x="234.5" y="840" width="5" height="2" rx="0" fill="#4b4b4b" />
<circle cx="254" cy="824" r="6" fill="#2a2a2a" />
<rect x="268" y="833" width="27" height="12" rx="2" fill="#2a2a2a" />
<rect x="271" y="835" width="5.5" height="8" rx="0" fill="#111" />
<rect x="278" y="835" width="5.5" height="8" rx="0" fill="#111" />
<rect x="285" y="835" width="5.5" height="8" rx="0" fill="#111" />
<circle cx="274" cy="826" r="3.5" fill="none" stroke="#262626" stroke-width="1"/>
<path d="M272.075,826H275.925M274,824.075V827.925" stroke="#262626" stroke-width="1"/>
<rect x="870" y="807.4" width="52.5" height="52.3" rx="4" fill="#535353" />
<rect x="915" y="817" width="6" height="37" rx="2" fill="#555555" stroke="#3a3a3a" stroke-width="1"/>
<rect x="895" y="816" width="6" height="39" rx="0" fill="#1f1f1f" />
<rect x="895.5" y="824" width="5" height="2" rx="0" fill="#4b4b4b" />
<rect x="895.5" y="832" width="5" height="2" rx="0" fill="#4b4b4b" />
<rect x="895.5" y="840" width="5" height="2" rx="0" fill="#4b4b4b" />
<circle cx="881" cy="823" r="6" fill="#2a2a2a" />
<rect x="840" y="833" width="27" height="12" rx="2" fill="#2a2a2a" />
<rect x="844" y="835" width="5.5" height="8" rx="0" fill="#111" />
<rect x="851" y="835" width="5.5" height="8" rx="0" fill="#111" />
<rect x="858" y="835" width="5.5" height="8" rx="0" fill="#111" />
<circle cx="860" cy="826" r="3.5" fill="none" stroke="#262626" stroke-width="1"/>
<path d="M858.075,826H861.925M860,824.075V827.925" stroke="#262626" stroke-width="1"/>
<circle cx="304.0" cy="818.0" r="1.45" fill="#141414" />
<circle cx="308.35" cy="818.0" r="1.45" fill="#141414" />
<circle cx="312.7" cy="818.0" r="1.45" fill="#141414" />
<circle cx="317.05" cy="818.0" r="1.45" fill="#141414" />
<circle cx="321.4" cy="818.0" r="1.45" fill="#141414" />
<circle cx="325.75" cy="818.0" r="1.45" fill="#141414" />
<circle cx="330.1" cy="818.0" r="1.45" fill="#141414" />
<circle cx="334.45" cy="818.0" r="1.45" fill="#141414" />
<circle cx="338.8" cy="818.0" r="1.45" fill="#141414" />
<circle cx="343.15" cy="818.0" r="1.45" fill="#141414" />
<circle cx="347.5" cy="818.0" r="1.45" fill="#141414" />
<circle cx="351.85" cy="818.0" r="1.45" fill="#141414" />
<circle cx="356.2" cy="818.0" r="1.45" fill="#141414" />
<circle cx="360.55" cy="818.0" r="1.45" fill="#141414" />
<circle cx="364.9" cy="818.0" r="1.45" fill="#141414" />
<circle cx="369.25" cy="818.0" r="1.45" fill="#141414" />
<circle cx="373.6" cy="818.0" r="1.45" fill="#141414" />
<circle cx="306.18" cy="823.1" r="1.45" fill="#141414" />
<circle cx="310.53" cy="823.1" r="1.45" fill="#141414" />
<circle cx="314.88" cy="823.1" r="1.45" fill="#141414" />
<circle cx="319.23" cy="823.1" r="1.45" fill="#141414" />
<circle cx="323.57" cy="823.1" r="1.45" fill="#141414" />
<circle cx="327.93" cy="823.1" r="1.45" fill="#141414" />
<circle cx="332.28" cy="823.1" r="1.45" fill="#141414" />
<circle cx="336.62" cy="823.1" r="1.45" fill="#141414" />
<circle cx="340.98" cy="823.1" r="1.45" fill="#141414" />
<circle cx="345.32" cy="823.1" r="1.45" fill="#141414" />
<circle cx="349.68" cy="823.1" r="1.45" fill="#141414" />
<circle cx="354.03" cy="823.1" r="1.45" fill="#141414" />
<circle cx="358.38" cy="823.1" r="1.45" fill="#141414" />
<circle cx="362.73" cy="823.1" r="1.45" fill="#141414" />
<circle cx="367.07" cy="823.1" r="1.45" fill="#141414" />
<circle cx="371.43" cy="823.1" r="1.45" fill="#141414" />
<circle cx="375.78" cy="823.1" r="1.45" fill="#141414" />
<circle cx="304.0" cy="828.2" r="1.45" fill="#141414" />
<circle cx="308.35" cy="828.2" r="1.45" fill="#141414" />
<circle cx="312.7" cy="828.2" r="1.45" fill="#141414" />
<circle cx="317.05" cy="828.2" r="1.45" fill="#141414" />
<circle cx="321.4" cy="828.2" r="1.45" fill="#141414" />
<circle cx="325.75" cy="828.2" r="1.45" fill="#141414" />
<circle cx="330.1" cy="828.2" r="1.45" fill="#141414" />
<circle cx="334.45" cy="828.2" r="1.45" fill="#141414" />
<circle cx="338.8" cy="828.2" r="1.45" fill="#141414" />
<circle cx="343.15" cy="828.2" r="1.45" fill="#141414" />
<circle cx="347.5" cy="828.2" r="1.45" fill="#141414" />
<circle cx="351.85" cy="828.2" r="1.45" fill="#141414" />
<circle cx="356.2" cy="828.2" r="1.45" fill="#141414" />
<circle cx="360.55" cy="828.2" r="1.45" fill="#141414" />
<circle cx="364.9" cy="828.2" r="1.45" fill="#141414" />
<circle cx="369.25" cy="828.2" r="1.45" fill="#141414" />
<circle cx="373.6" cy="828.2" r="1.45" fill="#141414" />
<circle cx="306.18" cy="833.3" r="1.45" fill="#141414" />
<circle cx="310.53" cy="833.3" r="1.45" fill="#141414" />
<circle cx="314.88" cy="833.3" r="1.45" fill="#141414" />
<circle cx="319.23" cy="833.3" r="1.45" fill="#141414" />
<circle cx="323.57" cy="833.3" r="1.45" fill="#141414" />
<circle cx="327.93" cy="833.3" r="1.45" fill="#141414" />
<circle cx="332.28" cy="833.3" r="1.45" fill="#141414" />
<circle cx="336.62" cy="833.3" r="1.45" fill="#141414" />
<circle cx="340.98" cy="833.3" r="1.45" fill="#141414" />
<circle cx="345.32" cy="833.3" r="1.45" fill="#141414" />
<circle cx="349.68" cy="833.3" r="1.45" fill="#141414" />
<circle cx="354.03" cy="833.3" r="1.45" fill="#141414" />
<circle cx="358.38" cy="833.3" r="1.45" fill="#141414" />
<circle cx="362.73" cy="833.3" r="1.45" fill="#141414" />
<circle cx="367.07" cy="833.3" r="1.45" fill="#141414" />
<circle cx="371.43" cy="833.3" r="1.45" fill="#141414" />
<circle cx="375.78" cy="833.3" r="1.45" fill="#141414" />
<circle cx="304.0" cy="838.4" r="1.45" fill="#141414" />
<circle cx="308.35" cy="838.4" r="1.45" fill="#141414" />
<circle cx="312.7" cy="838.4" r="1.45" fill="#141414" />
<circle cx="317.05" cy="838.4" r="1.45" fill="#141414" />
<circle cx="321.4" cy="838.4" r="1.45" fill="#141414" />
<circle cx="325.75" cy="838.4" r="1.45" fill="#141414" />
<circle cx="330.1" cy="838.4" r="1.45" fill="#141414" />
<circle cx="334.45" cy="838.4" r="1.45" fill="#141414" />
<circle cx="338.8" cy="838.4" r="1.45" fill="#141414" />
<circle cx="343.15" cy="838.4" r="1.45" fill="#141414" />
<circle cx="347.5" cy="838.4" r="1.45" fill="#141414" />
<circle cx="351.85" cy="838.4" r="1.45" fill="#141414" />
<circle cx="356.2" cy="838.4" r="1.45" fill="#141414" />
<circle cx="360.55" cy="838.4" r="1.45" fill="#141414" />
<circle cx="364.9" cy="838.4" r="1.45" fill="#141414" />
<circle cx="369.25" cy="838.4" r="1.45" fill="#141414" />
<circle cx="373.6" cy="838.4" r="1.45" fill="#141414" />
<circle cx="759.5" cy="818.0" r="1.45" fill="#141414" />
<circle cx="763.85" cy="818.0" r="1.45" fill="#141414" />
<circle cx="768.2" cy="818.0" r="1.45" fill="#141414" />
<circle cx="772.55" cy="818.0" r="1.45" fill="#141414" />
<circle cx="776.9" cy="818.0" r="1.45" fill="#141414" />
<circle cx="781.25" cy="818.0" r="1.45" fill="#141414" />
<circle cx="785.6" cy="818.0" r="1.45" fill="#141414" />
<circle cx="789.95" cy="818.0" r="1.45" fill="#141414" />
<circle cx="794.3" cy="818.0" r="1.45" fill="#141414" />
<circle cx="798.65" cy="818.0" r="1.45" fill="#141414" />
<circle cx="803.0" cy="818.0" r="1.45" fill="#141414" />
<circle cx="807.35" cy="818.0" r="1.45" fill="#141414" />
<circle cx="811.7" cy="818.0" r="1.45" fill="#141414" />
<circle cx="816.05" cy="818.0" r="1.45" fill="#141414" />
<circle cx="820.4" cy="818.0" r="1.45" fill="#141414" />
<circle cx="824.75" cy="818.0" r="1.45" fill="#141414" />
<circle cx="829.1" cy="818.0" r="1.45" fill="#141414" />
<circle cx="761.67" cy="823.1" r="1.45" fill="#141414" />
<circle cx="766.02" cy="823.1" r="1.45" fill="#141414" />
<circle cx="770.38" cy="823.1" r="1.45" fill="#141414" />
<circle cx="774.72" cy="823.1" r="1.45" fill="#141414" />
<circle cx="779.07" cy="823.1" r="1.45" fill="#141414" />
<circle cx="783.42" cy="823.1" r="1.45" fill="#141414" />
<circle cx="787.77" cy="823.1" r="1.45" fill="#141414" />
<circle cx="792.12" cy="823.1" r="1.45" fill="#141414" />
<circle cx="796.47" cy="823.1" r="1.45" fill="#141414" />
<circle cx="800.82" cy="823.1" r="1.45" fill="#141414" />
<circle cx="805.17" cy="823.1" r="1.45" fill="#141414" />
<circle cx="809.52" cy="823.1" r="1.45" fill="#141414" />
<circle cx="813.88" cy="823.1" r="1.45" fill="#141414" />
<circle cx="818.22" cy="823.1" r="1.45" fill="#141414" />
<circle cx="822.57" cy="823.1" r="1.45" fill="#141414" />
<circle cx="826.92" cy="823.1" r="1.45" fill="#141414" />
<circle cx="831.27" cy="823.1" r="1.45" fill="#141414" />
<circle cx="759.5" cy="828.2" r="1.45" fill="#141414" />
<circle cx="763.85" cy="828.2" r="1.45" fill="#141414" />
<circle cx="768.2" cy="828.2" r="1.45" fill="#141414" />
<circle cx="772.55" cy="828.2" r="1.45" fill="#141414" />
<circle cx="776.9" cy="828.2" r="1.45" fill="#141414" />
<circle cx="781.25" cy="828.2" r="1.45" fill="#141414" />
<circle cx="785.6" cy="828.2" r="1.45" fill="#141414" />
<circle cx="789.95" cy="828.2" r="1.45" fill="#141414" />
<circle cx="794.3" cy="828.2" r="1.45" fill="#141414" />
<circle cx="798.65" cy="828.2" r="1.45" fill="#141414" />
<circle cx="803.0" cy="828.2" r="1.45" fill="#141414" />
<circle cx="807.35" cy="828.2" r="1.45" fill="#141414" />
<circle cx="811.7" cy="828.2" r="1.45" fill="#141414" />
<circle cx="816.05" cy="828.2" r="1.45" fill="#141414" />
<circle cx="820.4" cy="828.2" r="1.45" fill="#141414" />
<circle cx="824.75" cy="828.2" r="1.45" fill="#141414" />
<circle cx="829.1" cy="828.2" r="1.45" fill="#141414" />
<circle cx="761.67" cy="833.3" r="1.45" fill="#141414" />
<circle cx="766.02" cy="833.3" r="1.45" fill="#141414" />
<circle cx="770.38" cy="833.3" r="1.45" fill="#141414" />
<circle cx="774.72" cy="833.3" r="1.45" fill="#141414" />
<circle cx="779.07" cy="833.3" r="1.45" fill="#141414" />
<circle cx="783.42" cy="833.3" r="1.45" fill="#141414" />
<circle cx="787.77" cy="833.3" r="1.45" fill="#141414" />
<circle cx="792.12" cy="833.3" r="1.45" fill="#141414" />
<circle cx="796.47" cy="833.3" r="1.45" fill="#141414" />
<circle cx="800.82" cy="833.3" r="1.45" fill="#141414" />
<circle cx="805.17" cy="833.3" r="1.45" fill="#141414" />
<circle cx="809.52" cy="833.3" r="1.45" fill="#141414" />
<circle cx="813.88" cy="833.3" r="1.45" fill="#141414" />
<circle cx="818.22" cy="833.3" r="1.45" fill="#141414" />
<circle cx="822.57" cy="833.3" r="1.45" fill="#141414" />
<circle cx="826.92" cy="833.3" r="1.45" fill="#141414" />
<circle cx="831.27" cy="833.3" r="1.45" fill="#141414" />
<circle cx="759.5" cy="838.4" r="1.45" fill="#141414" />
<circle cx="763.85" cy="838.4" r="1.45" fill="#141414" />
<circle cx="768.2" cy="838.4" r="1.45" fill="#141414" />
<circle cx="772.55" cy="838.4" r="1.45" fill="#141414" />
<circle cx="776.9" cy="838.4" r="1.45" fill="#141414" />
<circle cx="781.25" cy="838.4" r="1.45" fill="#141414" />
<circle cx="785.6" cy="838.4" r="1.45" fill="#141414" />
<circle cx="789.95" cy="838.4" r="1.45" fill="#141414" />
<circle cx="794.3" cy="838.4" r="1.45" fill="#141414" />
<circle cx="798.65" cy="838.4" r="1.45" fill="#141414" />
<circle cx="803.0" cy="838.4" r="1.45" fill="#141414" />
<circle cx="807.35" cy="838.4" r="1.45" fill="#141414" />
<circle cx="811.7" cy="838.4" r="1.45" fill="#141414" />
<circle cx="816.05" cy="838.4" r="1.45" fill="#141414" />
<circle cx="820.4" cy="838.4" r="1.45" fill="#141414" />
<circle cx="824.75" cy="838.4" r="1.45" fill="#141414" />
<circle cx="829.1" cy="838.4" r="1.45" fill="#141414" />
<circle cx="400.2" cy="827.3" r="13.5" fill="#2f2f2f" />
<circle cx="400.2" cy="827.3" r="9.8" fill="#3f9b4a" />
<path d="M396.6,823.6 A5,5 0 1 0 403.8,823.6" fill="none" stroke="#d9f0da" stroke-width="1.4"/>
<line x1="400.2" y1="820" x2="400.2" y2="827" stroke="#d9f0da" stroke-width="1.4"/>
<circle cx="433.7" cy="826.7" r="9.8" fill="#161616" />
<circle cx="467" cy="826.7" r="9.8" fill="#161616" />
<path d="M429.7,826.7H437.7M433.7,822.7V830.7M463.3,826.7H470.7" stroke="#eee" stroke-width="1.6"/>
<circle cx="492" cy="827" r="4.5" fill="none" stroke="#272727" stroke-width="1"/>
<path d="M489.525,827H494.475M492,824.525V829.475" stroke="#272727" stroke-width="1"/>
<circle cx="650" cy="826" r="4.5" fill="none" stroke="#272727" stroke-width="1"/>
<path d="M647.525,826H652.475M650,823.525V828.475" stroke="#272727" stroke-width="1"/>
<circle cx="683.6" cy="826" r="9.8" fill="#161616" />
<text x="683.6" y="830" text-anchor="middle" font-family="Liberation Sans" font-weight="bold" font-size="9" fill="#ddd">P2</text>
<circle cx="717" cy="826" r="9.8" fill="#161616" />
<text x="717" y="830" text-anchor="middle" font-family="Liberation Sans" font-weight="bold" font-size="9" fill="#ddd">P1</text>
<line x1="415.6" y1="811.0" x2="486.2" y2="811.0" stroke="#e35b0e" stroke-width="3.6" stroke-dasharray="10.00 5.15"/>
<line x1="415.6" y1="844.7" x2="486.2" y2="844.7" stroke="#e35b0e" stroke-width="3.6" stroke-dasharray="10.00 5.15"/>
<line x1="417.40000000000003" y1="809.2" x2="417.40000000000003" y2="846.5" stroke="#e35b0e" stroke-width="3.6" stroke-dasharray="10.00 3.65"/>
<line x1="484.4" y1="809.2" x2="484.4" y2="846.5" stroke="#e35b0e" stroke-width="3.6" stroke-dasharray="10.00 3.65"/>
<line x1="666" y1="810.5" x2="737.3" y2="810.5" stroke="#e35b0e" stroke-width="3.6" stroke-dasharray="10.00 5.32"/>
<line x1="666" y1="844.5" x2="737.3" y2="844.5" stroke="#e35b0e" stroke-width="3.6" stroke-dasharray="10.00 5.32"/>
<line x1="667.8" y1="808.7" x2="667.8" y2="846.3" stroke="#e35b0e" stroke-width="3.6" stroke-dasharray="10.00 3.80"/>
<line x1="735.5" y1="808.7" x2="735.5" y2="846.3" stroke="#e35b0e" stroke-width="3.6" stroke-dasharray="10.00 3.80"/>
<line x1="398.6" y1="836" x2="398.6" y2="879" stroke="#d9531f" stroke-width="1.3"/>
<polygon points="398.6,887 393.85,878 403.35,878" fill="#d9531f" />
<line x1="450.5" y1="846.5" x2="450.5" y2="879" stroke="#d9531f" stroke-width="1.3"/>
<polygon points="450.5,887 445.75,878 455.25,878" fill="#d9531f" />
<line x1="703.7" y1="846.3" x2="703.7" y2="878" stroke="#d9531f" stroke-width="1.3"/>
<polygon points="703.7,886 698.95,877 708.45,877" fill="#d9531f" />
<rect x="238" y="987" width="14" height="14" rx="6" fill="#2e2e2e" />
<rect x="248.9" y="982.8" width="17.799999999999983" height="14" rx="6" fill="#2e2e2e" />
<rect x="490" y="986" width="18" height="14" rx="6" fill="#2e2e2e" />
<rect x="628" y="986" width="18" height="14" rx="6" fill="#2e2e2e" />
<rect x="872" y="988" width="14" height="14" rx="6" fill="#2e2e2e" />
<rect x="882" y="984" width="27" height="14" rx="6" fill="#2e2e2e" />
<rect x="284" y="994" width="578" height="28" rx="0" fill="#3a3a3a" />
<rect x="284" y="1008" width="158" height="13.5" rx="0" fill="#545454" />
<rect x="706" y="1008" width="156" height="13.5" rx="0" fill="#525252" />
<rect x="442" y="994" width="80" height="27.5" rx="0" fill="#363636" />
<rect x="622" y="993" width="84" height="28.5" rx="0" fill="#363636" />
<path d="M236,994 L278,994 Q284.4,994 284.4,1000 L284.4,1016 Q284.4,1022.8 278,1022.8 L236,1022.8 Q230,1022.8 230,1016 L230,1000 Q230,994 236,994Z" fill="#555"/>
<path d="M867,995 L910,995 Q916.3,995 916.3,1001 L916.3,1016 Q916.3,1022.4 910,1022.4 L867,1022.4 Q861.5,1022.4 861.5,1016 L861.5,1001 Q861.5,995 867,995Z" fill="#555"/>
<rect x="522.2" y="991" width="100.6" height="30" rx="3" fill="#383838" />
<circle cx="541.5" cy="1012" r="4.3" fill="none" stroke="#262626" stroke-width="1"/>
<path d="M539.135,1012H543.865M541.5,1009.635V1014.365" stroke="#262626" stroke-width="1"/>
<circle cx="602.5" cy="1012" r="4.3" fill="none" stroke="#262626" stroke-width="1"/>
<path d="M600.135,1012H604.865M602.5,1009.635V1014.365" stroke="#262626" stroke-width="1"/>
<rect x="525" y="1021" width="97" height="9" rx="0" fill="#1d1d1d" />
<rect x="240" y="1022" width="30" height="6" rx="0" fill="#222" />
<rect x="877" y="1022" width="30" height="6" rx="0" fill="#222" />
<rect x="260" y="1027.5" width="605" height="45" rx="0" fill="#3a3a3a" />
<path d="M220,1028 H257 Q262,1028 262,1033 V1052 Q262,1057 267,1057 H277 Q282,1057 282,1062 V1075.5 Q282,1080.5 277,1080.5 H220 Q215,1080.5 215,1075.5 V1033 Q215,1028 220,1028Z" fill="#515151"/>
<rect x="262" y="1031.7" width="19" height="24.3" rx="0" fill="#2b2b2b" />
<circle cx="245.5" cy="1044" r="5.5" fill="#2f2f2f" />
<circle cx="245.5" cy="1044" r="4" fill="none" stroke="#1e1e1e" stroke-width="1"/>
<path d="M243.3,1044H247.7M245.5,1041.8V1046.2" stroke="#1e1e1e" stroke-width="1"/>
<rect x="283" y="1030.5" width="90" height="41.5" rx="0" fill="#3b3b3b" stroke="#2a2a2a" stroke-width="1"/>
<rect x="391.0" y="1046.3" width="5.6" height="18.1" rx="1.5" fill="#101010" />
<rect x="400.2" y="1046.3" width="5.6" height="18.1" rx="1.5" fill="#101010" />
<rect x="409.4" y="1046.3" width="5.6" height="18.1" rx="1.5" fill="#101010" />
<rect x="418.6" y="1046.3" width="5.6" height="18.1" rx="1.5" fill="#101010" />
<rect x="427.8" y="1046.3" width="5.6" height="18.1" rx="1.5" fill="#101010" />
<rect x="437.0" y="1046.3" width="5.6" height="18.1" rx="1.5" fill="#101010" />
<rect x="446.2" y="1046.3" width="5.6" height="18.1" rx="1.5" fill="#101010" />
<rect x="455.4" y="1046.3" width="5.6" height="18.1" rx="1.5" fill="#101010" />
<rect x="464.6" y="1046.3" width="5.6" height="18.1" rx="1.5" fill="#101010" />
<rect x="473.8" y="1046.3" width="5.6" height="18.1" rx="1.5" fill="#101010" />
<rect x="483.0" y="1046.3" width="5.6" height="18.1" rx="1.5" fill="#101010" />
<rect x="492.2" y="1046.3" width="5.6" height="18.1" rx="1.5" fill="#101010" />
<rect x="511" y="1044.5" width="6.4" height="16.1" rx="2" fill="#0e0e0e" />
<rect x="516" y="1029" width="102.5" height="43.5" rx="0" fill="#393939" />
<circle cx="537" cy="1058" r="4.8" fill="none" stroke="#272727" stroke-width="1"/>
<path d="M534.36,1058H539.64M537,1055.36V1060.64" stroke="#272727" stroke-width="1"/>
<circle cx="551" cy="1068" r="4.3" fill="none" stroke="#272727" stroke-width="1"/>
<path d="M548.635,1068H553.365M551,1065.635V1070.365" stroke="#272727" stroke-width="1"/>
<circle cx="592" cy="1065" r="4.3" fill="none" stroke="#272727" stroke-width="1"/>
<path d="M589.635,1065H594.365M592,1062.635V1067.365" stroke="#272727" stroke-width="1"/>
<circle cx="607" cy="1058" r="4.8" fill="none" stroke="#272727" stroke-width="1"/>
<path d="M604.36,1058H609.64M607,1055.36V1060.64" stroke="#272727" stroke-width="1"/>
<rect x="619" y="1034" width="11" height="7" rx="0" fill="#1e1e1e" />
<rect x="619" y="1043" width="11" height="7" rx="0" fill="#1e1e1e" />
<rect x="619" y="1052" width="11" height="7" rx="0" fill="#1e1e1e" />
<rect x="636.3" y="1026.9" width="106.7" height="46" rx="3" fill="#353535" />
<rect x="643.7" y="1034" width="94.8" height="31.4" rx="3" fill="#444444" />
<polygon points="650,1042 650,1058 660,1050" fill="#8a8a8a" />
<path d="M706,1046h8v5h-8zM716,1046h8v5h-8zM704,1055h22" stroke="#8a8a8a" stroke-width="1" fill="none"/>
<rect x="743" y="1029" width="27" height="43" rx="0" fill="#383838" />
<circle cx="750" cy="1040" r="4.3" fill="none" stroke="#262626" stroke-width="1"/>
<path d="M747.635,1040H752.365M750,1037.635V1042.365" stroke="#262626" stroke-width="1"/>
<circle cx="752" cy="1056" r="4.3" fill="none" stroke="#262626" stroke-width="1"/>
<path d="M749.635,1056H754.365M752,1053.635V1058.365" stroke="#262626" stroke-width="1"/>
<rect x="772" y="1026.9" width="77" height="46" rx="3" fill="#353535" />
<rect x="778" y="1034" width="66" height="31.4" rx="3" fill="#444444" />
<polygon points="838,1042 838,1058 828,1050" fill="#8a8a8a" />
<path d="M793,1042l-4,8h4l-3,8M814,1042l-4,8h4l-3,8" stroke="#8a8a8a" stroke-width="1.2" fill="none"/>
<rect x="695" y="1070" width="50" height="5" rx="2" fill="#2d2d2d" />
<rect x="790" y="1070" width="45" height="5" rx="2" fill="#2d2d2d" />
<rect x="850" y="1027.5" width="36" height="45" rx="0" fill="#3a3a3a" />
<path d="M890,1030 H926 Q931,1030 931,1035 V1075 Q931,1080 926,1080 H869 Q864,1080 864,1075 V1062 Q864,1057 869,1057 H880 Q885,1057 885,1052 V1035 Q885,1030 890,1030Z" fill="#515151"/>
<rect x="864" y="1032" width="18" height="23" rx="0" fill="#2b2b2b" />
<circle cx="899" cy="1044" r="5.5" fill="#2f2f2f" />
<circle cx="899" cy="1044" r="4" fill="none" stroke="#1e1e1e" stroke-width="1"/>
<path d="M896.8,1044H901.2M899,1041.8V1046.2" stroke="#1e1e1e" stroke-width="1"/>
<line x1="630.4" y1="1024.2" x2="750.4" y2="1024.2" stroke="#e35b0e" stroke-width="3.6" stroke-dasharray="10.00 3.75"/>
<line x1="630.4" y1="1078.4" x2="750.4" y2="1078.4" stroke="#e35b0e" stroke-width="3.6" stroke-dasharray="10.00 3.75"/>
<line x1="632.1999999999999" y1="1022.4" x2="632.1999999999999" y2="1080.2" stroke="#e35b0e" stroke-width="3.6" stroke-dasharray="10.00 5.93"/>
<line x1="748.6" y1="1022.4" x2="748.6" y2="1080.2" stroke="#e35b0e" stroke-width="3.6" stroke-dasharray="10.00 5.93"/>
<line x1="766.7" y1="1024.2" x2="852.6" y2="1024.2" stroke="#e35b0e" stroke-width="3.6" stroke-dasharray="10.00 5.18"/>
<line x1="766.7" y1="1078.4" x2="852.6" y2="1078.4" stroke="#e35b0e" stroke-width="3.6" stroke-dasharray="10.00 5.18"/>
<line x1="768.5" y1="1022.4" x2="768.5" y2="1080.2" stroke="#e35b0e" stroke-width="3.6" stroke-dasharray="10.00 5.93"/>
<line x1="850.8000000000001" y1="1022.4" x2="850.8000000000001" y2="1080.2" stroke="#e35b0e" stroke-width="3.6" stroke-dasharray="10.00 5.93"/>
<line x1="513.5" y1="1061" x2="513.5" y2="1098" stroke="#d9531f" stroke-width="1.3"/>
<polygon points="513.5,1106.7 508.75,1097.7 518.25,1097.7" fill="#d9531f" />
<line x1="688.7" y1="1080" x2="688.7" y2="1098" stroke="#d9531f" stroke-width="1.3"/>
<polygon points="688.7,1106.5 683.95,1097.5 693.45,1097.5" fill="#d9531f" />
<line x1="808" y1="1080" x2="808" y2="1098" stroke="#d9531f" stroke-width="1.3"/>
<polygon points="808,1106.5 803.25,1097.5 812.75,1097.5" fill="#d9531f" />
<path d="M464,1380 Q464,1368.4 476,1368.4 Q489.6,1368.4 489.6,1382 L489.6,1778 Q489.6,1781 486,1781 L466,1781 Q464,1781 464,1778Z" fill="#3a3a3a"/>
<rect x="467" y="1392" width="9" height="384" rx="0" fill="#4c4c4c" />
<rect x="476" y="1392" width="3" height="384" rx="0" fill="#333" />
<rect x="488" y="1396" width="6" height="14" rx="2" fill="#333" />
<rect x="488" y="1750" width="6" height="14" rx="2" fill="#333" />
<rect x="422" y="1380" width="40" height="366" rx="0" fill="#343434" />
<path d="M418,1360 Q418,1352 426,1352 L455,1352 Q462,1352 462,1360 L462,1386 L418,1386Z" fill="#484848"/>
<circle cx="448" cy="1371" r="4.2" fill="#262626" />
<rect x="418" y="1385" width="4" height="62" rx="0" fill="#262626" />
<rect x="424" y="1380" width="38" height="42" rx="0" fill="#3c3c3c" />
<rect x="436.7" y="1384.7" width="22.3" height="30.3" rx="1.5" fill="#474747" />
<line x1="446" y1="1392" x2="446" y2="1408" stroke="#2c2c2c" stroke-width="1"/>
<line x1="450" y1="1392" x2="450" y2="1408" stroke="#2c2c2c" stroke-width="1"/>
<rect x="424" y="1420" width="38" height="6" rx="0" fill="#222" />
<rect x="424" y="1426" width="38" height="83" rx="0" fill="#474747" />
<rect x="430.6" y="1431.6" width="24.4" height="72.4" rx="2.5" fill="#353535" />
<polygon points="437,1437 450,1437 443.5,1444" fill="#9a9a9a" />
<path d="M443.5,1455v11M440.5,1459l3,-3l3,3M441,1462l2.5,2M446,1462l-2.5,2M443.5,1481v11M440.5,1485l3,-3l3,3M441,1488l2.5,2M446,1488l-2.5,2" stroke="#d87a3a" stroke-width="1.1" fill="none"/>
<rect x="424" y="1509" width="38" height="27" rx="0" fill="#353535" />
<rect x="424" y="1510" width="38" height="3" rx="0" fill="#222" />
<circle cx="436" cy="1527" r="3.5" fill="none" stroke="#222" stroke-width="1"/>
<path d="M434.075,1527H437.925M436,1525.075V1528.925" stroke="#222" stroke-width="1"/>
<circle cx="451" cy="1523" r="3.5" fill="none" stroke="#222" stroke-width="1"/>
<path d="M449.075,1523H452.925M451,1521.075V1524.925" stroke="#222" stroke-width="1"/>
<rect x="424" y="1536" width="38" height="66" rx="0" fill="#474747" />
<rect x="429.6" y="1540" width="25.4" height="58" rx="2.5" fill="#353535" />
<rect x="440" y="1551" width="7" height="5" rx="0" fill="none" stroke="#999" stroke-width="0.8"/>
<path d="M441,1568 a3,3 0 1 1 4,2 M442,1578l4,-4" stroke="#999" stroke-width="0.9" fill="none"/>
<polygon points="437,1596 450,1596 443.5,1589" fill="#9a9a9a" />
<rect x="424" y="1603" width="38" height="18" rx="0" fill="#2c2c2c" />
<rect x="430" y="1604" width="4" height="14" rx="0" fill="#171717" />
<rect x="437" y="1604" width="4" height="14" rx="0" fill="#171717" />
<rect x="444" y="1604" width="4" height="14" rx="0" fill="#171717" />
<rect x="451" y="1604" width="4" height="14" rx="0" fill="#171717" />
<rect x="425" y="1621" width="36" height="124" rx="0" fill="#363636" />
<rect x="431" y="1624" width="30" height="116" rx="0" fill="#3a3a3a" stroke="#2c2c2c" stroke-width="1"/>
<circle cx="441" cy="1635" r="3.6" fill="none" stroke="#262626" stroke-width="1"/>
<path d="M439.02,1635H442.98M441,1633.02V1636.98" stroke="#262626" stroke-width="1"/>
<circle cx="441" cy="1737" r="3.6" fill="none" stroke="#262626" stroke-width="1"/>
<path d="M439.02,1737H442.98M441,1735.02V1738.98" stroke="#262626" stroke-width="1"/>
<path d="M417.3,1748 Q417.3,1744.4 421,1744.4 L458,1744.4 Q461,1744.4 461,1748 L461,1780 Q461,1784 457,1784 L421,1784 Q417.3,1784 417.3,1780Z" fill="#484848"/>
<circle cx="449" cy="1752" r="4.2" fill="#262626" />
<rect x="424" y="1761" width="32" height="5" rx="0" fill="#181818" />
<rect x="424" y="1771" width="32" height="6" rx="0" fill="#414141" />
<path d="M552.8,1382 Q552.8,1369.4 540,1369.4 Q526,1369.4 526,1384 L526,1778 Q526,1781 530,1781 L550,1781 Q552.8,1781 552.8,1778Z" fill="#3a3a3a"/>
<rect x="541" y="1392" width="9" height="384" rx="0" fill="#4c4c4c" />
<rect x="538" y="1392" width="3" height="384" rx="0" fill="#333" />
<rect x="521" y="1397" width="6" height="15" rx="2" fill="#333" />
<rect x="518" y="1750" width="8" height="15" rx="2" fill="#333" />
<rect x="554.8" y="1380" width="38" height="366" rx="0" fill="#343434" />
<path d="M555,1360 Q555,1352 563,1352 L591,1352 Q598.6,1352 598.6,1360 L598.6,1386 L555,1386Z" fill="#484848"/>
<circle cx="569" cy="1372" r="4.2" fill="#262626" />
<rect x="556" y="1385" width="37" height="127" rx="0" fill="#3b3b3b" />
<rect x="553" y="1385" width="3" height="127" rx="0" fill="#1a1a1a" />
<rect x="558" y="1388" width="8" height="86" rx="0" fill="#363636" />
<rect x="556" y="1512" width="38" height="24" rx="0" fill="#353535" />
<circle cx="568" cy="1527" r="4" fill="#262626" />
<rect x="556" y="1536" width="37" height="66" rx="0" fill="#474747" />
<rect x="560" y="1540" width="28" height="58" rx="2.5" fill="#353535" />
<rect x="573" y="1557" width="8" height="6" rx="0" fill="none" stroke="#999" stroke-width="0.8"/>
<polygon points="570,1590 584,1590 577,1582" fill="#9a9a9a" />
<rect x="556" y="1604" width="38" height="27" rx="0" fill="#333" />
<circle cx="563" cy="1614" r="3.6" fill="#262626" />
<circle cx="572" cy="1614" r="3.6" fill="#262626" />
<rect x="555" y="1631" width="37.5" height="100" rx="0" fill="#474747" />
<rect x="559" y="1635" width="28" height="91" rx="2.5" fill="#353535" />
<rect x="573" y="1682" width="8" height="9" rx="0" fill="none" stroke="#999" stroke-width="0.8"/>
<polygon points="570,1726 584,1726 577,1718" fill="#9a9a9a" />
<rect x="556" y="1731" width="36" height="8" rx="0" fill="#262626" />
<rect x="560" y="1732" width="4" height="7" rx="0" fill="#151515" />
<rect x="567" y="1732" width="4" height="7" rx="0" fill="#151515" />
<rect x="574" y="1732" width="4" height="7" rx="0" fill="#151515" />
<rect x="581" y="1732" width="4" height="7" rx="0" fill="#151515" />
<path d="M555,1741 Q555,1737 559,1737 L594,1737 Q598,1737 598,1741 L598,1780 Q598,1784 594,1784 L559,1784 Q555,1784 555,1780Z" fill="#484848"/>
<circle cx="568" cy="1753" r="4.2" fill="#262626" />
<rect x="563" y="1762" width="30" height="5" rx="0" fill="#181818" />
<rect x="563" y="1771" width="30" height="6" rx="0" fill="#414141" />
<line x1="551.8" y1="1383.5" x2="601.7" y2="1383.5" stroke="#e35b0e" stroke-width="3.6" stroke-dasharray="10.00 3.30"/>
<line x1="551.8" y1="1511.2" x2="601.7" y2="1511.2" stroke="#e35b0e" stroke-width="3.6" stroke-dasharray="10.00 3.30"/>
<line x1="553.5999999999999" y1="1381.7" x2="553.5999999999999" y2="1513" stroke="#e35b0e" stroke-width="3.6" stroke-dasharray="10.00 3.48"/>
<line x1="599.9000000000001" y1="1381.7" x2="599.9000000000001" y2="1513" stroke="#e35b0e" stroke-width="3.6" stroke-dasharray="10.00 3.48"/>
<line x1="417.3" y1="1615.8" x2="466.2" y2="1615.8" stroke="#e35b0e" stroke-width="3.6" stroke-dasharray="10.00 2.97"/>
<line x1="417.3" y1="1743.6000000000001" x2="466.2" y2="1743.6000000000001" stroke="#e35b0e" stroke-width="3.6" stroke-dasharray="10.00 2.97"/>
<line x1="419.1" y1="1614" x2="419.1" y2="1745.4" stroke="#e35b0e" stroke-width="3.6" stroke-dasharray="10.00 3.49"/>
<line x1="464.4" y1="1614" x2="464.4" y2="1745.4" stroke="#e35b0e" stroke-width="3.6" stroke-dasharray="10.00 3.49"/>
<line x1="436" y1="1402.6" x2="378" y2="1402.6" stroke="#d9531f" stroke-width="1.3"/>
<polygon points="369.5,1402.6 378.5,1397.85 378.5,1407.35" fill="#d9531f" />
<line x1="434" y1="1466.8" x2="377" y2="1466.8" stroke="#d9531f" stroke-width="1.3"/>
<polygon points="368.8,1466.8 377.8,1462.05 377.8,1471.55" fill="#d9531f" />
<line x1="434" y1="1559.4" x2="378" y2="1559.4" stroke="#d9531f" stroke-width="1.3"/>
<polygon points="369.5,1559.4 378.5,1554.65 378.5,1564.15" fill="#d9531f" />
<line x1="417.3" y1="1679.5" x2="382" y2="1679.5" stroke="#d9531f" stroke-width="1.3"/>
<polygon points="373.8,1679.3 382.8,1674.55 382.8,1684.05" fill="#d9531f" />
<line x1="601.7" y1="1446.2" x2="633" y2="1446.2" stroke="#d9531f" stroke-width="1.3"/>
<polygon points="641.5,1446.2 632.5,1441.45 632.5,1450.95" fill="#d9531f" />
<line x1="577.6" y1="1573.3" x2="633" y2="1573.3" stroke="#d9531f" stroke-width="1.3"/>
<polygon points="641.3,1573.3 632.3,1568.55 632.3,1578.05" fill="#d9531f" />
<line x1="577.6" y1="1693" x2="633" y2="1693" stroke="#d9531f" stroke-width="1.3"/>
<polygon points="641.3,1692.8 632.3,1688.05 632.3,1697.55" fill="#d9531f" />
<path d="M266,1994 L781,1994 L781,2376 L266,2376Z" fill="#474747"/>
<rect x="396" y="1987" width="179" height="8" rx="2" fill="#464646" />
<rect x="494.8" y="1982.8" width="57.8" height="11" rx="2" fill="#3a3a3a" />
<rect x="500" y="1993" width="47" height="4" rx="0" fill="#2f2f2f" />
<path d="M260.4,1993 L269,1983.5 L292,1983.5 Q298,1983.5 298,1990 L298,2026 L260.4,2026Z" fill="#4c4c4c"/>
<path d="M749.6,1990 Q749.6,1983.7 756,1983.7 L776,1983.7 L785,1993 L785,2026 L749.6,2026Z" fill="#4c4c4c"/>
<circle cx="281" cy="2017" r="4" fill="#262626" />
<circle cx="766" cy="2017" r="4" fill="#262626" />
<rect x="301" y="1995" width="22" height="8" rx="0" fill="#444" stroke="#3a3a3a" stroke-width="1"/>
<rect x="725" y="1995" width="22" height="8" rx="0" fill="#444" stroke="#3a3a3a" stroke-width="1"/>
<circle cx="521.5" cy="2000" r="3" fill="none" stroke="#333" stroke-width="1"/>
<path d="M519.85,2000H523.15M521.5,1998.35V2001.65" stroke="#333" stroke-width="1"/>
<rect x="293" y="2018" width="226" height="125" rx="0" fill="#474747" stroke="#3a3a3a" stroke-width="1.2"/>
<rect x="531" y="2018" width="225" height="125" rx="0" fill="#474747" stroke="#3a3a3a" stroke-width="1.2"/>
<rect x="279" y="2040" width="14" height="40" rx="0" fill="#555" stroke="#3f3f3f" stroke-width="1"/>
<rect x="756" y="2040" width="14" height="40" rx="0" fill="#555" stroke="#3f3f3f" stroke-width="1"/>
<circle cx="287" cy="2143" r="4" fill="#262626" />
<circle cx="761" cy="2143" r="4" fill="#262626" />
<circle cx="284" cy="2152" r="4" fill="#262626" />
<rect x="261" y="2043" width="6" height="70" rx="0" fill="#3c3c3c" />
<rect x="261.5" y="2152" width="13" height="60" rx="0" fill="#434343" stroke="#333" stroke-width="1.2"/>
<rect x="261.5" y="2236" width="13" height="79" rx="0" fill="#434343" stroke="#333" stroke-width="1.2"/>
<rect x="781" y="2043" width="5" height="70" rx="0" fill="#3c3c3c" />
<rect x="779" y="2153" width="7" height="60" rx="0" fill="#444" stroke="#363636" stroke-width="1"/>
<path d="M297.4,2158 H530 V2376" fill="none" stroke="#424242" stroke-width="1"/>
<rect x="665" y="2212" width="116" height="9" rx="0" fill="#474747" />
<path d="M781,2221 H697 Q692,2221 692,2226 V2327 L671.5,2342 V2376" fill="none" stroke="#303030" stroke-width="1.4"/>
<path d="M781,2222.5 H698 Q693.5,2222.5 693.5,2227 V2327.8 L673,2342.8 V2376" fill="none" stroke="#555" stroke-width="0.8"/>
<circle cx="704" cy="2216" r="3.5" fill="none" stroke="#333" stroke-width="1"/>
<path d="M702.075,2216H705.925M704,2214.075V2217.925" stroke="#333" stroke-width="1"/>
<circle cx="745" cy="2216" r="3.5" fill="#2a2a2a" />
<circle cx="759" cy="2216" r="3.5" fill="none" stroke="#333" stroke-width="1"/>
<path d="M757.075,2216H760.925M759,2214.075V2217.925" stroke="#333" stroke-width="1"/>
<rect x="628" y="2202.5" width="47.3" height="17" rx="3" fill="#060606" />
<rect x="597.8" y="2253.0" width="35" height="2" rx="0" fill="#121212" />
<rect x="641" y="2253.0" width="34.3" height="2" rx="0" fill="#121212" />
<rect x="597.8" y="2258.3" width="35" height="2" rx="0" fill="#121212" />
<rect x="641" y="2258.3" width="34.3" height="2" rx="0" fill="#121212" />
<rect x="597.8" y="2263.6" width="35" height="2" rx="0" fill="#121212" />
<rect x="641" y="2263.6" width="34.3" height="2" rx="0" fill="#121212" />
<rect x="597.8" y="2268.9" width="35" height="2" rx="0" fill="#121212" />
<rect x="641" y="2268.9" width="34.3" height="2" rx="0" fill="#121212" />
<rect x="597.8" y="2274.2" width="35" height="2" rx="0" fill="#121212" />
<rect x="641" y="2274.2" width="34.3" height="2" rx="0" fill="#121212" />
<rect x="597.8" y="2279.5" width="35" height="2" rx="0" fill="#121212" />
<rect x="641" y="2279.5" width="34.3" height="2" rx="0" fill="#121212" />
<rect x="597.8" y="2284.8" width="35" height="2" rx="0" fill="#121212" />
<rect x="641" y="2284.8" width="34.3" height="2" rx="0" fill="#121212" />
<rect x="597.8" y="2290.1" width="35" height="2" rx="0" fill="#121212" />
<rect x="641" y="2290.1" width="34.3" height="2" rx="0" fill="#121212" />
<rect x="597.8" y="2295.4" width="35" height="2" rx="0" fill="#121212" />
<rect x="641" y="2295.4" width="34.3" height="2" rx="0" fill="#121212" />
<rect x="597.8" y="2300.7" width="35" height="2" rx="0" fill="#121212" />
<rect x="641" y="2300.7" width="34.3" height="2" rx="0" fill="#121212" />
<rect x="597.8" y="2306.0" width="35" height="2" rx="0" fill="#121212" />
<rect x="641" y="2306.0" width="34.3" height="2" rx="0" fill="#121212" />
<rect x="597.8" y="2311.3" width="35" height="2" rx="0" fill="#121212" />
<rect x="641" y="2311.3" width="34.3" height="2" rx="0" fill="#121212" />
<rect x="597.8" y="2316.6" width="35" height="2" rx="0" fill="#121212" />
<rect x="641" y="2316.6" width="34.3" height="2" rx="0" fill="#121212" />
<circle cx="561" cy="2175.5" r="4.5" fill="#222" />
<circle cx="581" cy="2232" r="4.5" fill="#222" />
<circle cx="560" cy="2308" r="4.5" fill="#222" />
<circle cx="644" cy="2341" r="4.5" fill="#222" />
<circle cx="679" cy="2321" r="4.5" fill="#222" />
<circle cx="593" cy="2327" r="4" fill="#222" />
<circle cx="568" cy="2347" r="4" fill="#222" />
<circle cx="285.6" cy="2221" r="4" fill="#222" />
<circle cx="282" cy="2310" r="4" fill="#222" />
<circle cx="390" cy="2350" r="4" fill="#222" />
<circle cx="307" cy="2341" r="3.5" fill="#222" />
<circle cx="461.4" cy="2329" r="4.5" fill="#222" />
<circle cx="471" cy="2312" r="3.5" fill="#222" />
<circle cx="676" cy="2237" r="3.5" fill="none" stroke="#333" stroke-width="1"/>
<path d="M674.075,2237H677.925M676,2235.075V2238.925" stroke="#333" stroke-width="1"/>
<circle cx="597" cy="2367" r="3.5" fill="none" stroke="#333" stroke-width="1"/>
<path d="M595.075,2367H598.925M597,2365.075V2368.925" stroke="#333" stroke-width="1"/>
<circle cx="562" cy="2370" r="3.5" fill="none" stroke="#333" stroke-width="1"/>
<path d="M560.075,2370H563.925M562,2368.075V2371.925" stroke="#333" stroke-width="1"/>
<circle cx="672" cy="2338" r="3.5" fill="none" stroke="#333" stroke-width="1"/>
<path d="M670.075,2338H673.925M672,2336.075V2339.925" stroke="#333" stroke-width="1"/>
<rect x="332.7" y="2269.4" width="95.3" height="81.2" rx="0" fill="#525252" />
<rect x="332.7" y="2269.4" width="4" height="81.2" rx="0" fill="#5c5c5c" />
<rect x="358.5" y="2286.6" width="23" height="54" rx="2" fill="#1d1d1d" />
<circle cx="365" cy="2293" r="2.4" fill="#c9a13a" />
<circle cx="374.5" cy="2293" r="2.4" fill="#c9a13a" />
<circle cx="364.5" cy="2301" r="1.4" fill="#b8912e" />
<circle cx="371.0" cy="2301" r="1.4" fill="#b8912e" />
<circle cx="364.5" cy="2306" r="1.4" fill="#b8912e" />
<circle cx="371.0" cy="2306" r="1.4" fill="#b8912e" />
<circle cx="364.5" cy="2311" r="1.4" fill="#b8912e" />
<circle cx="371.0" cy="2311" r="1.4" fill="#b8912e" />
<circle cx="364.5" cy="2316" r="1.4" fill="#b8912e" />
<circle cx="371.0" cy="2316" r="1.4" fill="#b8912e" />
<circle cx="364.5" cy="2321" r="1.4" fill="#b8912e" />
<circle cx="371.0" cy="2321" r="1.4" fill="#b8912e" />
<circle cx="364.5" cy="2326" r="1.4" fill="#b8912e" />
<circle cx="371.0" cy="2326" r="1.4" fill="#b8912e" />
<circle cx="364.5" cy="2331" r="1.4" fill="#b8912e" />
<circle cx="371.0" cy="2331" r="1.4" fill="#b8912e" />
<circle cx="364.5" cy="2336" r="1.4" fill="#b8912e" />
<circle cx="371.0" cy="2336" r="1.4" fill="#b8912e" />
<rect x="394" y="2290" width="12.4" height="30.5" rx="5" fill="#1c1c1c" stroke="#c9a13a" stroke-width="1.3"/>
<circle cx="400.2" cy="2296" r="2" fill="#777" />
<circle cx="400.2" cy="2305" r="2" fill="#777" />
<circle cx="400.2" cy="2314" r="2" fill="#777" />
<circle cx="389" cy="2274" r="3.5" fill="none" stroke="#333" stroke-width="1"/>
<path d="M387.075,2274H390.925M389,2272.075V2275.925" stroke="#333" stroke-width="1"/>
<circle cx="346" cy="2288" r="3.5" fill="none" stroke="#333" stroke-width="1"/>
<path d="M344.075,2288H347.925M346,2286.075V2289.925" stroke="#333" stroke-width="1"/>
<circle cx="346" cy="2339" r="3.5" fill="none" stroke="#333" stroke-width="1"/>
<path d="M344.075,2339H347.925M346,2337.075V2340.925" stroke="#333" stroke-width="1"/>
<circle cx="392" cy="2345" r="3.5" fill="none" stroke="#333" stroke-width="1"/>
<path d="M390.075,2345H393.925M392,2343.075V2346.925" stroke="#333" stroke-width="1"/>
<circle cx="404" cy="2336" r="4.5" fill="#3a3a3a" />
<circle cx="413" cy="2338" r="5" fill="#666" />
<rect x="400" y="2280" width="4" height="6" rx="0" fill="#333" />
<path d="M260,2347.7 L300,2347.7 Q308.8,2347.7 308.8,2356 L308.8,2373 Q308.8,2380.7 300,2380.7 L268,2380.7 Q260,2380.7 260,2372Z" fill="#4f4f4f"/>
<rect x="264" y="2319" width="30.5" height="26" rx="3" fill="#3e3e3e" stroke="#303030" stroke-width="1.2"/>
<circle cx="284.4" cy="2330.5" r="4.5" fill="none" stroke="#2a2a2a" stroke-width="1"/>
<path d="M281.92499999999995,2330.5H286.875M284.4,2328.025V2332.975" stroke="#2a2a2a" stroke-width="1"/>
<circle cx="293" cy="2357" r="4" fill="#262626" />
<path d="M738,2349.3 L778,2349.3 Q786,2349.3 786,2357 L786,2374 Q786,2381.7 778,2381.7 L746,2381.7 Q738,2381.7 738,2374Z" fill="#525252"/>
<circle cx="750" cy="2368" r="4" fill="#1e1e1e" />
<rect x="316" y="2369" width="60.3" height="12" rx="0" fill="#454545" stroke="#383838" stroke-width="1"/>
<rect x="397.8" y="2369" width="83" height="12" rx="0" fill="#454545" stroke="#383838" stroke-width="1"/>
<rect x="496" y="2358.6" width="10" height="4" rx="2" fill="#1a1a1a" />
<rect x="539" y="2358.6" width="10" height="4" rx="2" fill="#1a1a1a" />
<rect x="541" y="2361" width="0" height="0" rx="0" fill="#000" />
<line x1="287.6" y1="2015.1" x2="523.1" y2="2015.1" stroke="#303030" stroke-width="3.6"/>
<line x1="287.6" y1="2015.1" x2="523.1" y2="2015.1" stroke="#e35b0e" stroke-width="3.6" stroke-dasharray="10.00 4.09"/>
<line x1="287.6" y1="2146.1" x2="523.1" y2="2146.1" stroke="#e35b0e" stroke-width="3.6" stroke-dasharray="10.00 4.09"/>
<line x1="289.40000000000003" y1="2013.3" x2="289.40000000000003" y2="2147.9" stroke="#e35b0e" stroke-width="3.6" stroke-dasharray="10.00 3.84"/>
<line x1="521.3000000000001" y1="2013.3" x2="521.3000000000001" y2="2147.9" stroke="#303030" stroke-width="3.6"/>
<line x1="521.3000000000001" y1="2013.3" x2="521.3000000000001" y2="2147.9" stroke="#e35b0e" stroke-width="3.6" stroke-dasharray="10.00 3.84"/>
<line x1="525.8" y1="2015.1" x2="761" y2="2015.1" stroke="#303030" stroke-width="3.6"/>
<line x1="525.8" y1="2015.1" x2="761" y2="2015.1" stroke="#e35b0e" stroke-width="3.6" stroke-dasharray="10.00 4.08"/>
<line x1="525.8" y1="2146.1" x2="761" y2="2146.1" stroke="#e35b0e" stroke-width="3.6" stroke-dasharray="10.00 4.08"/>
<line x1="527.5999999999999" y1="2013.3" x2="527.5999999999999" y2="2147.9" stroke="#303030" stroke-width="3.6"/>
<line x1="527.5999999999999" y1="2013.3" x2="527.5999999999999" y2="2147.9" stroke="#e35b0e" stroke-width="3.6" stroke-dasharray="10.00 3.84"/>
<line x1="759.2" y1="2013.3" x2="759.2" y2="2147.9" stroke="#e35b0e" stroke-width="3.6" stroke-dasharray="10.00 3.84"/>
<path d="M405,2013 V1945.1 H477" fill="none" stroke="#d9531f" stroke-width="1.3"/>
<polygon points="484.6,1945.1 475.6,1940.35 475.6,1949.85" fill="#d9531f" />
<path d="M643.6,2013 V1945.2 H577" fill="none" stroke="#d9531f" stroke-width="1.3"/>
<polygon points="569.8,1945.2 578.8,1940.45 578.8,1949.95" fill="#d9531f" />
<path d="M370.5,2302.4 H300.2 V2233.1 H237" fill="none" stroke="#d9531f" stroke-width="1.3"/>
<polygon points="228.7,2233.1 237.7,2228.35 237.7,2237.85" fill="#d9531f" />
<path d="M397.8,2316 H313.7 V2347.7 H237" fill="none" stroke="#d9531f" stroke-width="1.3"/>
<polygon points="228.7,2347.7 237.7,2342.95 237.7,2352.45" fill="#d9531f" />
<line x1="667" y1="2210.3" x2="803" y2="2210.3" stroke="#d9531f" stroke-width="1.3"/>
<polygon points="812,2210.2 803,2205.45 803,2214.95" fill="#d9531f" />
<line x1="747.5" y1="2288.2" x2="803" y2="2288.2" stroke="#d9531f" stroke-width="1.3"/>
<polygon points="812,2288.1 803,2283.35 803,2292.85" fill="#d9531f" />
</svg>
<div class="h" style="left:76px;top:23.1px;font-size:39.3px;color:#666666;transform:scaleX(0.914);letter-spacing:0px;">전면</div>
<div class="h" style="left:464px;top:51.5px;font-size:23.2px;color:#e8470f;transform:scaleX(0.927);letter-spacing:0px;">전면</div>
<div class="t" style="left:747.20px;top:98.93px;font-size:13.2px;transform:scaleX(0.9875);">Default: 5MP webcam or</div>
<div class="t" style="left:746.18px;top:116.43px;font-size:13.2px;transform:scaleX(1.0091);"><span class="k">옵션</span>: Windows Hello face-authentication</div>
<div class="t" style="left:747.19px;top:133.63px;font-size:13.2px;transform:scaleX(0.9980);">5MP camera (front-facing)</div>
<div class="t" style="left:746.19px;top:367.43px;font-size:13.2px;transform:scaleX(0.9993);"><span class="k">옵션</span>: Fingerprint reader</div>
<div class="t" style="left:747.21px;top:530.13px;font-size:13.2px;transform:scaleX(0.9597);">Copilot Key</div>
<div class="h" style="left:112.3px;top:801.6px;font-size:23px;color:#e8470f;transform:scaleX(0.93);letter-spacing:0px;">앞면</div>
<div class="h" style="left:76px;top:635.3px;font-size:40px;color:#666666;transform:scaleX(0.926);letter-spacing:0px;">앞면 &amp; 뒷면</div>
<div class="t" style="left:337.19px;top:893.63px;font-size:13.2px;transform:scaleX(1.0182);">Power button</div>
<div class="t" style="left:441.79px;top:893.63px;font-size:13.2px;transform:scaleX(1.0119);">Audio volume buttons</div>
<div class="t" style="left:655.39px;top:892.93px;font-size:13.2px;transform:scaleX(1.0015);">Programmable buttons</div>
<div class="h" style="left:114px;top:1023.7px;font-size:23px;color:#e8470f;transform:scaleX(0.92);letter-spacing:0px;">뒷면</div>
<div class="t" style="left:465.21px;top:1113.63px;font-size:13.2px;transform:scaleX(0.9699);">Kensington lock</div>
<div class="t" style="left:650.99px;top:1113.63px;font-size:13.2px;transform:scaleX(1.0074);">HDMI 2.0</div>
<div class="t" style="left:651.02px;top:1137.17px;font-size:12.5px;transform:scaleX(0.9838);color:#444">LAN (RJ-45)</div>
<div class="t" style="left:761.00px;top:1113.63px;font-size:13.2px;transform:scaleX(0.9744);">Thunderbolt<span style="font-size:8px;position:relative;top:-4px">™</span> 4 Type-C x 2</div>
<div class="h" style="left:76px;top:1254.3px;font-size:38.9px;color:#666666;transform:scaleX(0.906);letter-spacing:0px;">왼쪽 &amp; 오른쪽</div>
<div class="h" style="left:424px;top:1305.3px;font-size:23.7px;color:#e8470f;transform:scaleX(0.896);letter-spacing:0px;">왼쪽</div>
<div class="h" style="left:535px;top:1305.3px;font-size:23.7px;color:#e8470f;transform:scaleX(0.88);letter-spacing:0px;">오른쪽</div>
<div class="t" style="left:296.10px;top:1394.93px;font-size:13.2px;transform:scaleX(0.9008);">DC in Jack</div>
<div class="t" style="left:207.66px;top:1459.43px;font-size:13.2px;transform:scaleX(0.9439);">USB 3.2 Gen 2 Type-A&nbsp; x 2</div>
<div class="t" style="left:161.04px;top:1551.43px;font-size:13.2px;transform:scaleX(0.9593);"><span class="k">옵션</span>: SIM card slot (Nano-SIM, 4FF)</div>
<div class="t" style="left:162.00px;top:1568.23px;font-size:13.2px;transform:scaleX(1.0221);">Audio in/out combo</div>
<div class="t" style="left:207.03px;top:1667.43px;font-size:13.2px;transform:scaleX(0.9677);"><span class="k">옵션</span>: HF RFID reader</div>
<div class="t" style="left:652.39px;top:1387.13px;font-size:13.2px;transform:scaleX(0.9952);">Configurable I/O options:</div>
<div class="t" style="left:651.70px;top:1403.43px;font-size:13.2px;">1.</div>
<div class="t" style="left:678.80px;top:1403.43px;font-size:13.2px;transform:scaleX(0.9891);">Default – none or</div>
<div class="t" style="left:651.70px;top:1420.33px;font-size:13.2px;">2.</div>
<div class="t" style="left:678.81px;top:1420.33px;font-size:13.2px;transform:scaleX(0.9750);"><span class="k">옵션</span>: 1D/2D imager barcode reader&nbsp; or</div>
<div class="t" style="left:651.70px;top:1437.43px;font-size:13.2px;">3.</div>
<div class="t" style="left:678.83px;top:1437.43px;font-size:13.2px;transform:scaleX(0.9400);"><span class="k">옵션</span>: USB 3.2 Gen 2 Type -A + Serial</div>
<div class="t" style="left:678.79px;top:1454.43px;font-size:13.2px;transform:scaleX(1.0008);">port (9-pin; D-sub) or</div>
<div class="t" style="left:651.70px;top:1471.43px;font-size:13.2px;">4.</div>
<div class="t" style="left:678.82px;top:1471.43px;font-size:13.2px;transform:scaleX(0.9453);"><span class="k">옵션</span>: USB 3.2 Gen 2 Type -A + MicroSD</div>
<div class="t" style="left:678.80px;top:1488.43px;font-size:13.2px;transform:scaleX(0.9910);">card reader</div>
<div class="t" style="left:651.83px;top:1565.43px;font-size:13.2px;transform:scaleX(0.9292);">Removable SSD</div>
<div class="t" style="left:651.81px;top:1685.23px;font-size:13.2px;transform:scaleX(0.9728);"><span class="k">옵션</span>: Smart card reader</div>
<div class="h" style="left:76px;top:1853.8px;font-size:40.9px;color:#666666;transform:scaleX(0.88);letter-spacing:-4px;">하단</div>
<div class="h" style="left:290px;top:1922.6px;font-size:24px;color:#e8470f;transform:scaleX(0.85);letter-spacing:0px;">하단</div>
<div class="t" style="left:495.61px;top:1936.53px;font-size:13.2px;transform:scaleX(0.9790);">Battery x 2</div>
<div class="t" style="left:99.80px;top:2225.83px;font-size:13.2px;transform:scaleX(0.9917);">Docking connector</div>
<div class="t" style="left:32.07px;top:2295.83px;font-size:13.2px;transform:scaleX(0.9519);"><span class="k">옵션</span>: Tri RF antenna pass -</div>
<div class="t" style="left:33.02px;top:2312.63px;font-size:13.2px;transform:scaleX(0.9556);">through for 4G (GPS, WLAN,</div>
<div class="t" style="left:32.99px;top:2329.53px;font-size:13.2px;transform:scaleX(1.0152);">WWAN)</div>
<div class="t" style="left:32.06px;top:2346.33px;font-size:13.2px;transform:scaleX(0.9575);"><span class="k">옵션</span>: Quad RF antenna</div>
<div class="t" style="left:33.02px;top:2363.23px;font-size:13.2px;transform:scaleX(0.9519);">pass-through for 5G (GPS,</div>
<div class="t" style="left:33.00px;top:2380.33px;font-size:13.2px;transform:scaleX(0.9928);">WLAN, WWAN, WWAN MIMO)</div>
<div class="t" style="left:822.40px;top:2193.83px;font-size:13.2px;transform:scaleX(0.9892);"><span class="k">옵션</span>: 13MP auto</div>
<div class="t" style="left:823.38px;top:2210.63px;font-size:13.2px;transform:scaleX(0.9607);">focus rear camera</div>
<div class="t" style="left:823.98px;top:2252.13px;font-size:13.2px;transform:scaleX(1.0245);">Configurable l/O options:</div>
<div class="t" style="left:824.00px;top:2268.93px;font-size:13.2px;">1.</div>
<div class="t" style="left:851.38px;top:2268.93px;font-size:13.2px;transform:scaleX(1.0060);">Default – none or</div>
<div class="t" style="left:824.00px;top:2285.83px;font-size:13.2px;">2.</div>
<div class="t" style="left:851.40px;top:2285.83px;font-size:13.2px;transform:scaleX(0.9905);">1D/2D imager barcode reader or</div>
<div class="t" style="left:824.00px;top:2303.23px;font-size:13.2px;">3.</div>
<div class="t" style="left:851.43px;top:2303.23px;font-size:13.2px;transform:scaleX(0.9538);">USB 3.2 Gen 2 Type-A + Serial port</div>
<div class="t" style="left:851.40px;top:2320.33px;font-size:13.2px;transform:scaleX(0.9832);">(9-pin; D-sub) or</div>
<div class="t" style="left:824.00px;top:2337.63px;font-size:13.2px;">4.</div>
<div class="t" style="left:851.43px;top:2337.63px;font-size:13.2px;transform:scaleX(0.9485);">USB 3.2 Gen 2 Type-A + MicroSD</div>
</body></html>
